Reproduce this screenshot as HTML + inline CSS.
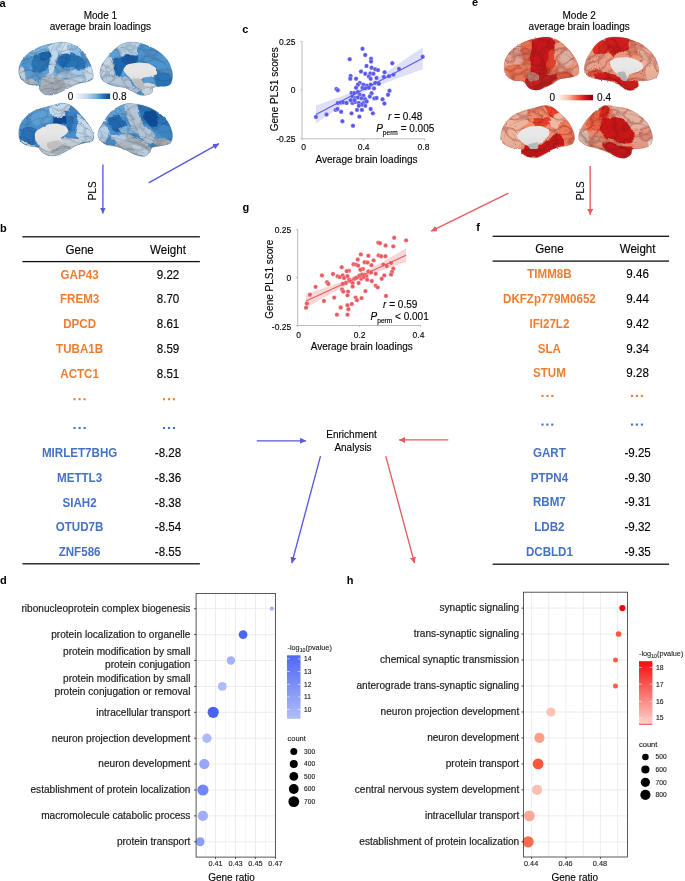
<!DOCTYPE html>
<html><head><meta charset="utf-8"><title>figure</title><style>
html,body{margin:0;padding:0;background:#fff;width:685px;height:881px;overflow:hidden;}
svg{display:block;will-change:transform;font-family:"Liberation Sans",sans-serif;}
</style></head><body>
<svg width="685" height="881" viewBox="0 0 685 881">
<defs><clipPath id="cp_a1"><path d="M19.34,75.22 C18.72,73.57 18.52,72.33 18.72,70.26 C18.93,68.19 19.34,65.30 20.58,62.81 C21.82,60.33 24.00,57.54 26.17,55.37 C28.34,53.20 30.72,51.44 33.61,49.79 C36.51,48.13 40.02,46.58 43.54,45.44 C47.05,44.31 51.19,43.48 54.70,42.96 C58.22,42.45 61.32,41.93 64.63,42.34 C67.94,42.76 71.66,44.10 74.55,45.44 C77.45,46.79 79.93,48.34 82.00,50.41 C84.07,52.47 85.41,55.16 86.96,57.85 C88.51,60.54 90.27,63.85 91.30,66.54 C92.34,69.22 92.96,71.91 93.16,73.98 C93.37,76.05 93.37,77.70 92.54,78.94 C91.72,80.18 89.96,80.80 88.20,81.42 C86.44,82.04 84.27,82.04 82.00,82.67 C79.72,83.29 77.03,84.11 74.55,85.15 C72.07,86.18 69.59,87.63 67.11,88.87 C64.63,90.11 62.15,91.56 59.67,92.59 C57.18,93.62 54.70,94.76 52.22,95.07 C49.74,95.38 46.84,95.28 44.78,94.45 C42.71,93.62 40.85,91.66 39.81,90.11 C38.78,88.56 39.61,85.97 38.57,85.15 C37.54,84.32 35.47,85.35 33.61,85.15 C31.75,84.94 29.27,84.73 27.41,83.91 C25.55,83.08 23.79,81.63 22.44,80.18 C21.10,78.74 19.96,76.88 19.34,75.22 Z"/></clipPath>
<clipPath id="cp_a2"><path d="M99.96,73.98 C99.76,71.71 100.38,68.81 101.20,66.54 C102.03,64.26 103.48,62.40 104.93,60.33 C106.37,58.26 108.03,56.20 109.89,54.13 C111.75,52.06 113.61,49.79 116.09,47.93 C118.57,46.06 121.47,43.89 124.78,42.96 C128.09,42.03 132.22,41.93 135.94,42.34 C139.67,42.76 143.59,44.10 147.11,45.44 C150.62,46.79 153.93,48.34 157.03,50.41 C160.14,52.47 163.44,55.16 165.72,57.85 C167.99,60.54 169.55,63.64 170.68,66.54 C171.82,69.43 172.54,72.33 172.54,75.22 C172.54,78.12 172.03,82.04 170.68,83.91 C169.34,85.77 166.34,85.97 164.48,86.39 C162.62,86.80 161.38,86.18 159.52,86.39 C157.66,86.59 154.55,86.59 153.31,87.63 C152.07,88.66 153.11,91.35 152.07,92.59 C151.04,93.83 149.18,94.66 147.11,95.07 C145.04,95.49 142.15,95.69 139.67,95.07 C137.18,94.45 134.70,92.59 132.22,91.35 C129.74,90.11 127.46,88.45 124.78,87.63 C122.09,86.80 118.78,87.01 116.09,86.39 C113.40,85.77 110.92,84.94 108.65,83.91 C106.37,82.87 103.89,81.84 102.44,80.18 C101.00,78.53 100.17,76.25 99.96,73.98 Z"/></clipPath>
<clipPath id="cp_a3"><path d="M18.72,133.98 C18.72,131.50 18.93,127.98 19.96,125.30 C21.00,122.61 22.86,120.13 24.93,117.85 C26.99,115.58 29.47,113.30 32.37,111.65 C35.26,109.99 38.99,108.96 42.30,107.93 C45.60,106.89 48.91,106.23 52.22,105.44 C55.53,104.66 59.25,103.31 62.15,103.21 C65.04,103.11 67.11,103.62 69.59,104.82 C72.07,106.02 74.55,108.03 77.03,110.41 C79.52,112.78 82.20,116.20 84.48,119.09 C86.75,121.99 89.13,124.88 90.68,127.78 C92.23,130.67 93.58,134.19 93.78,136.46 C93.99,138.74 93.27,140.39 91.92,141.42 C90.58,142.46 88.20,142.04 85.72,142.67 C83.24,143.29 79.93,143.91 77.03,145.15 C74.14,146.39 71.45,148.45 68.35,150.11 C65.25,151.76 61.73,154.14 58.42,155.07 C55.12,156.00 51.39,156.31 48.50,155.69 C45.60,155.07 42.71,152.69 41.05,151.35 C39.40,150.01 40.23,148.45 38.57,147.63 C36.92,146.80 33.61,147.01 31.13,146.39 C28.65,145.77 25.55,144.94 23.68,143.91 C21.82,142.87 20.79,141.84 19.96,140.18 C19.14,138.53 18.72,136.46 18.72,133.98 Z"/></clipPath>
<clipPath id="cp_a4"><path d="M98.10,136.46 C97.69,134.60 97.79,132.74 98.72,130.26 C99.65,127.78 101.82,124.47 103.68,121.57 C105.55,118.68 107.41,115.37 109.89,112.89 C112.37,110.41 115.68,108.24 118.57,106.68 C121.47,105.13 124.16,104.00 127.26,103.58 C130.36,103.17 133.88,103.69 137.18,104.20 C140.49,104.72 143.80,105.44 147.11,106.68 C150.42,107.93 153.93,109.58 157.03,111.65 C160.14,113.72 163.44,116.40 165.72,119.09 C167.99,121.78 169.55,125.09 170.68,127.78 C171.82,130.46 172.54,132.74 172.54,135.22 C172.54,137.70 172.03,141.01 170.68,142.67 C169.34,144.32 166.75,144.53 164.48,145.15 C162.20,145.77 159.10,145.97 157.03,146.39 C154.97,146.80 153.31,146.59 152.07,147.63 C150.83,148.66 150.83,151.14 149.59,152.59 C148.35,154.04 146.90,155.90 144.63,156.31 C142.35,156.73 139.04,156.11 135.94,155.07 C132.84,154.04 129.33,151.56 126.02,150.11 C122.71,148.66 119.19,147.21 116.09,146.39 C112.99,145.56 109.89,145.97 107.41,145.15 C104.93,144.32 102.75,142.87 101.20,141.42 C99.65,139.98 98.52,138.32 98.10,136.46 Z"/></clipPath>
<clipPath id="cp_e1"><path d="M504.34,67.98 C504.34,65.91 504.03,63.22 504.96,60.54 C505.89,57.85 507.86,54.33 509.93,51.85 C511.99,49.37 514.47,47.51 517.37,45.65 C520.26,43.79 523.99,41.97 527.30,40.68 C530.60,39.40 533.91,38.58 537.22,37.96 C540.53,37.33 544.25,36.82 547.15,36.96 C550.04,37.11 552.11,37.79 554.59,38.82 C557.07,39.86 559.55,41.20 562.03,43.17 C564.52,45.13 567.20,47.92 569.48,50.61 C571.75,53.30 574.13,56.40 575.68,59.30 C577.23,62.19 578.37,65.50 578.78,67.98 C579.20,70.46 579.09,72.74 578.16,74.18 C577.23,75.63 575.06,76.04 573.20,76.67 C571.34,77.29 569.27,77.49 567.00,77.91 C564.72,78.32 562.03,78.11 559.55,79.15 C557.07,80.18 554.59,82.66 552.11,84.11 C549.63,85.56 547.35,86.80 544.67,87.83 C541.98,88.87 538.67,90.31 535.98,90.31 C533.29,90.31 530.40,89.07 528.54,87.83 C526.67,86.59 526.05,84.01 524.81,82.87 C523.57,81.73 522.95,81.42 521.09,81.01 C519.23,80.59 515.92,81.11 513.65,80.39 C511.37,79.66 508.89,77.91 507.44,76.67 C506.00,75.42 505.48,74.39 504.96,72.94 C504.45,71.50 504.34,70.05 504.34,67.98 Z"/></clipPath>
<clipPath id="cp_e2"><path d="M584.34,70.46 C584.24,68.29 584.65,64.67 585.58,61.78 C586.51,58.88 588.17,55.99 589.93,53.09 C591.68,50.20 593.65,46.78 596.13,44.41 C598.61,42.03 601.92,40.06 604.81,38.82 C607.71,37.58 610.40,37.17 613.50,36.96 C616.60,36.76 620.12,36.96 623.42,37.58 C626.73,38.20 630.25,39.55 633.35,40.68 C636.45,41.82 639.14,42.55 642.03,44.41 C644.93,46.27 648.34,49.16 650.72,51.85 C653.10,54.54 654.96,57.64 656.30,60.54 C657.65,63.43 658.68,66.53 658.78,69.22 C658.89,71.91 658.27,74.91 656.92,76.67 C655.58,78.42 652.99,79.04 650.72,79.77 C648.44,80.49 645.34,80.70 643.28,81.01 C641.21,81.32 639.14,80.70 638.31,81.63 C637.49,82.56 639.35,85.14 638.31,86.59 C637.28,88.04 634.18,89.80 632.11,90.31 C630.04,90.83 627.97,90.52 625.91,89.69 C623.84,88.87 621.98,86.69 619.70,85.35 C617.43,84.01 615.15,82.56 612.26,81.63 C609.36,80.70 605.64,80.39 602.33,79.77 C599.02,79.15 595.10,78.73 592.41,77.91 C589.72,77.08 587.55,76.04 586.20,74.80 C584.86,73.56 584.45,72.63 584.34,70.46 Z"/></clipPath>
<clipPath id="cp_e3"><path d="M500.72,138.46 C500.72,136.39 500.93,132.67 501.96,129.78 C503.00,126.88 504.86,123.57 506.93,121.09 C508.99,118.61 511.47,116.65 514.37,114.89 C517.26,113.13 520.99,111.68 524.30,110.55 C527.60,109.41 530.91,108.89 534.22,108.06 C537.53,107.24 541.25,105.79 544.15,105.58 C547.04,105.38 548.90,105.48 551.59,106.82 C554.28,108.17 557.59,111.27 560.28,113.65 C562.96,116.03 565.65,118.40 567.72,121.09 C569.79,123.78 571.55,127.09 572.68,129.78 C573.82,132.46 574.54,134.95 574.54,137.22 C574.54,139.50 574.03,141.98 572.68,143.42 C571.34,144.87 568.75,145.29 566.48,145.91 C564.20,146.53 561.52,146.53 559.03,147.15 C556.55,147.77 554.07,148.39 551.59,149.63 C549.11,150.87 546.63,153.25 544.15,154.59 C541.67,155.93 539.39,157.28 536.70,157.69 C534.01,158.11 530.50,157.80 528.02,157.07 C525.54,156.35 523.05,154.59 521.81,153.35 C520.57,152.11 521.81,150.45 520.57,149.63 C519.33,148.80 516.64,149.01 514.37,148.39 C512.10,147.77 508.99,146.94 506.93,145.91 C504.86,144.87 503.00,143.42 501.96,142.18 C500.93,140.94 500.72,140.53 500.72,138.46 Z"/></clipPath>
<clipPath id="cp_e4"><path d="M578.72,138.46 C578.52,136.60 578.93,133.71 579.96,131.02 C581.00,128.33 582.86,125.23 584.93,122.33 C586.99,119.44 589.89,116.03 592.37,113.65 C594.85,111.27 597.54,109.47 599.81,108.06 C602.09,106.66 603.33,105.42 606.02,105.21 C608.71,105.00 612.43,106.24 615.94,106.82 C619.46,107.40 623.59,107.55 627.11,108.68 C630.62,109.82 633.93,111.58 637.03,113.65 C640.14,115.72 643.44,118.40 645.72,121.09 C647.99,123.78 649.55,127.09 650.68,129.78 C651.82,132.46 652.54,134.74 652.54,137.22 C652.54,139.70 652.03,142.91 650.68,144.67 C649.34,146.42 646.75,147.04 644.48,147.77 C642.20,148.49 639.10,148.70 637.03,149.01 C634.97,149.32 633.11,148.70 632.07,149.63 C631.04,150.56 632.07,153.14 630.83,154.59 C629.59,156.04 626.90,157.90 624.63,158.31 C622.35,158.73 620.08,158.11 617.18,157.07 C614.29,156.04 610.57,153.56 607.26,152.11 C603.95,150.66 600.64,149.42 597.33,148.39 C594.02,147.35 590.10,146.94 587.41,145.91 C584.72,144.87 582.65,143.42 581.20,142.18 C579.76,140.94 578.93,140.32 578.72,138.46 Z"/></clipPath>
<filter id="wig" x="-10%" y="-10%" width="120%" height="120%"><feTurbulence type="fractalNoise" baseFrequency="0.13" numOctaves="1" seed="3" result="t"/><feDisplacementMap in="SourceGraphic" in2="t" scale="6" xChannelSelector="R" yChannelSelector="G"/></filter>
<filter id="sul" x="0" y="0" width="100%" height="100%" color-interpolation-filters="sRGB"><feTurbulence type="turbulence" baseFrequency="0.07 0.1" numOctaves="1" seed="11"/><feColorMatrix type="matrix" values="0 0 0 0 0.22  0 0 0 0 0.24  0 0 0 0 0.28  -1.4 0 0 0 0.2"/><feGaussianBlur stdDeviation="0.6"/></filter>
<filter id="sulr" x="0" y="0" width="100%" height="100%" color-interpolation-filters="sRGB"><feTurbulence type="turbulence" baseFrequency="0.07 0.1" numOctaves="1" seed="11"/><feColorMatrix type="matrix" values="0 0 0 0 0.45  0 0 0 0 0.06  0 0 0 0 0.06  -2.0 0 0 0 0.3"/><feGaussianBlur stdDeviation="0.6"/></filter>
<filter id="wig2" x="-5%" y="-5%" width="110%" height="110%"><feTurbulence type="fractalNoise" baseFrequency="0.25" numOctaves="1" seed="5" result="t"/><feDisplacementMap in="SourceGraphic" in2="t" scale="2.2" xChannelSelector="R" yChannelSelector="G"/></filter>
<linearGradient id="shade" x1="0" x2="0" y1="0" y2="1"><stop offset="0.55" stop-color="#000" stop-opacity="0"/><stop offset="1" stop-color="#000" stop-opacity="0.09"/></linearGradient>
<linearGradient id="gblue" x1="0" x2="1" y1="0" y2="0"><stop offset="0" stop-color="#eef4fa"/><stop offset="0.3" stop-color="#c6dbef"/><stop offset="0.6" stop-color="#6baed6"/><stop offset="0.82" stop-color="#2171b5"/><stop offset="1" stop-color="#08468f"/></linearGradient>
<linearGradient id="gred" x1="0" x2="1" y1="0" y2="0"><stop offset="0" stop-color="#fff2ec"/><stop offset="0.3" stop-color="#fbb59a"/><stop offset="0.55" stop-color="#f4553c"/><stop offset="0.78" stop-color="#cc1518"/><stop offset="1" stop-color="#780010"/></linearGradient>
<linearGradient id="gdleg" x1="0" x2="0" y1="0" y2="1"><stop offset="0" stop-color="#4f68f4"/><stop offset="1" stop-color="#b0bdf9"/></linearGradient>
<linearGradient id="ghleg" x1="0" x2="0" y1="0" y2="1"><stop offset="0" stop-color="#f50d0d"/><stop offset="1" stop-color="#fdd5cc"/></linearGradient>
<marker id="mb" viewBox="0 0 10 10" refX="10" refY="5" markerWidth="6" markerHeight="6" markerUnits="userSpaceOnUse" orient="auto"><path d="M0,0 L10,5 L0,10 z" fill="#5658e0"/></marker>
<marker id="mr" viewBox="0 0 10 10" refX="10" refY="5" markerWidth="6" markerHeight="6" markerUnits="userSpaceOnUse" orient="auto"><path d="M0,0 L10,5 L0,10 z" fill="#e85a5c"/></marker></defs>
<g filter="url(#wig2)"><g clip-path="url(#cp_a1)"><rect x="15.7" y="39.3" width="80.4" height="58.7" fill="#5d9fd4"/><g filter="url(#wig)"><path d="M26.17,55.37 C26.27,54.80 32.16,50.61 33.61,49.79 C35.06,48.96 42.19,45.86 43.54,45.44 C44.88,45.03 49.33,44.31 49.74,44.82 C50.15,45.34 49.33,50.98 48.50,51.65 C47.67,52.32 41.16,52.47 39.81,52.89 C38.47,53.30 33.51,56.40 32.37,56.61 C31.23,56.82 26.06,55.94 26.17,55.37 Z" fill="#7db5df"/><path d="M20.58,62.81 C21.05,61.78 25.18,55.89 26.17,55.37 C27.15,54.85 31.96,55.68 32.37,56.61 C32.78,57.54 31.65,65.40 31.13,66.54 C30.61,67.67 27.05,70.15 26.17,70.26 C25.29,70.36 21.05,68.40 20.58,67.78 C20.12,67.16 20.12,63.85 20.58,62.81 Z" fill="#4f93cd"/><path d="M33.61,56.61 C34.33,55.47 38.57,53.30 39.81,52.89 C41.05,52.47 47.62,51.44 48.50,51.65 C49.38,51.85 50.41,54.44 50.36,55.37 C50.31,56.30 48.24,61.57 47.88,62.81 C47.52,64.05 46.69,69.43 46.02,70.26 C45.35,71.09 40.74,72.64 39.81,72.74 C38.88,72.84 35.57,72.02 34.85,71.50 C34.13,70.98 31.23,67.78 31.13,66.54 C31.03,65.30 32.89,57.75 33.61,56.61 Z" fill="#2a74b8"/><path d="M39.81,52.89 C40.43,52.27 47.67,51.34 48.50,51.65 C49.33,51.96 49.95,55.89 49.74,56.61 C49.53,57.33 46.74,60.13 46.02,60.33 C45.29,60.54 41.57,59.71 41.05,59.09 C40.54,58.47 39.19,53.51 39.81,52.89 Z" fill="#1a62aa"/><path d="M49.74,44.82 C50.31,44.20 54.91,42.91 55.94,42.96 C56.98,43.01 61.94,44.62 62.15,45.44 C62.35,46.27 58.94,51.44 58.42,52.89 C57.91,54.34 56.36,61.16 55.94,62.81 C55.53,64.47 54.08,71.81 53.46,72.74 C52.84,73.67 48.96,74.60 48.50,73.98 C48.03,73.36 47.67,66.74 47.88,65.30 C48.09,63.85 50.88,57.85 50.98,56.61 C51.08,55.37 49.22,51.39 49.12,50.41 C49.02,49.42 49.17,45.44 49.74,44.82 Z" fill="#c0d8ec"/><path d="M55.94,42.96 C56.36,42.70 65.56,42.14 67.11,42.34 C68.66,42.55 74.04,44.67 74.55,45.44 C75.07,46.22 74.14,50.92 73.31,51.65 C72.49,52.37 65.87,54.03 64.63,54.13 C63.39,54.23 58.63,53.61 58.42,52.89 C58.22,52.16 62.35,46.27 62.15,45.44 C61.94,44.62 55.53,43.22 55.94,42.96 Z" fill="#c8ddef"/><path d="M67.11,45.44 C67.42,44.82 73.31,45.03 74.55,45.44 C75.79,45.86 81.17,49.48 82.00,50.41 C82.82,51.34 84.89,56.20 84.48,56.61 C84.07,57.02 78.17,55.68 77.03,55.37 C75.90,55.06 71.66,53.72 70.83,52.89 C70.00,52.06 66.80,46.06 67.11,45.44 Z" fill="#8fc0e3"/><path d="M58.42,56.61 C58.99,55.73 63.49,53.72 64.63,53.51 C65.77,53.30 70.83,53.87 72.07,54.13 C73.31,54.39 78.48,56.09 79.52,56.61 C80.55,57.13 83.96,59.40 84.48,60.33 C85.00,61.26 86.34,67.05 85.72,67.78 C85.10,68.50 78.38,69.02 77.03,69.02 C75.69,69.02 70.83,67.83 69.59,67.78 C68.35,67.72 63.13,68.71 62.15,68.40 C61.16,68.09 58.11,65.04 57.80,64.05 C57.49,63.07 57.86,57.49 58.42,56.61 Z" fill="#2775ba"/><path d="M60.91,55.37 C61.63,54.65 67.52,53.72 68.35,54.13 C69.18,54.54 70.93,59.20 70.83,60.33 C70.73,61.47 67.83,67.16 67.11,67.78 C66.39,68.40 62.77,68.19 62.15,67.78 C61.53,67.36 59.77,63.85 59.67,62.81 C59.56,61.78 60.18,56.09 60.91,55.37 Z" fill="#1b67b0"/><path d="M82.00,50.41 C82.51,50.61 86.18,56.51 86.96,57.85 C87.74,59.20 91.41,65.71 91.30,66.54 C91.20,67.36 86.29,68.29 85.72,67.78 C85.15,67.26 84.89,61.37 84.48,60.33 C84.07,59.30 80.96,56.20 80.76,55.37 C80.55,54.54 81.48,50.20 82.00,50.41 Z" fill="#5597d0"/><path d="M85.72,67.78 C86.55,67.26 91.28,67.26 91.92,67.78 C92.56,68.29 93.36,73.00 93.41,73.98 C93.46,74.96 92.98,78.94 92.54,79.56 C92.11,80.18 88.98,81.37 88.20,81.42 C87.43,81.48 83.76,80.80 83.24,80.18 C82.72,79.56 81.79,75.01 82.00,73.98 C82.20,72.95 84.89,68.29 85.72,67.78 Z" fill="#cadcec"/><path d="M47.26,73.98 C48.09,73.57 54.29,73.05 55.94,72.74 C57.60,72.43 65.35,70.52 67.11,70.26 C68.87,70.00 75.59,69.53 77.03,69.64 C78.48,69.74 83.86,70.72 84.48,71.50 C85.10,72.27 85.41,78.32 84.48,78.94 C83.55,79.56 75.17,79.05 73.31,78.94 C71.45,78.84 63.90,77.70 62.15,77.70 C60.39,77.70 53.56,78.94 52.22,78.94 C50.88,78.94 46.43,78.12 46.02,77.70 C45.60,77.29 46.43,74.39 47.26,73.98 Z" fill="#a8c8e4"/><path d="M39.81,78.94 C40.43,77.81 45.81,76.56 47.26,76.46 C48.71,76.36 55.53,77.50 57.18,77.70 C58.84,77.91 65.77,78.74 67.11,78.94 C68.45,79.15 73.21,79.46 73.31,80.18 C73.42,80.91 69.49,86.59 68.35,87.63 C67.21,88.66 61.01,91.97 59.67,92.59 C58.32,93.21 53.46,94.92 52.22,95.07 C50.98,95.23 45.81,94.87 44.78,94.45 C43.74,94.04 40.23,91.40 39.81,90.11 C39.40,88.82 39.19,80.08 39.81,78.94 Z" fill="#b0b8c0"/><path d="M67.11,78.94 C68.66,78.53 81.48,78.74 83.24,78.94 C85.00,79.15 88.30,81.11 88.20,81.42 C88.10,81.73 83.13,82.35 82.00,82.67 C80.86,82.98 75.79,84.73 74.55,85.15 C73.31,85.56 67.94,87.73 67.11,87.63 C66.28,87.52 64.63,84.63 64.63,83.91 C64.63,83.18 65.56,79.36 67.11,78.94 Z" fill="#c4d3e2"/><path d="M19.34,75.22 C19.14,74.50 18.62,70.98 18.72,70.26 C18.83,69.53 20.07,66.64 20.58,66.54 C21.10,66.43 24.46,68.29 24.93,69.02 C25.39,69.74 26.27,74.29 26.17,75.22 C26.06,76.15 24.10,79.87 23.68,80.18 C23.27,80.49 21.57,79.36 21.20,78.94 C20.84,78.53 19.55,75.94 19.34,75.22 Z" fill="#c5ccd4"/><path d="M22.44,80.18 C22.44,79.77 26.48,78.94 27.41,78.94 C28.34,78.94 32.68,79.77 33.61,80.18 C34.54,80.60 38.57,83.49 38.57,83.91 C38.57,84.32 34.54,85.15 33.61,85.15 C32.68,85.15 28.34,84.32 27.41,83.91 C26.48,83.49 22.44,80.60 22.44,80.18 Z" fill="#b5bcc4"/></g><path d="M38.57,78.94 C40.43,78.32 45.81,76.05 49.74,75.22 C53.67,74.39 58.42,74.81 62.15,73.98 C65.87,73.15 69.59,71.60 72.07,70.26 C74.55,68.91 76.21,66.64 77.03,65.92  M43.54,87.01 C45.60,86.12 51.81,83.02 55.94,81.67 C60.08,80.33 64.21,80.02 68.35,78.94 C72.49,77.87 77.55,76.63 80.76,75.22 C83.96,73.81 86.44,71.29 87.58,70.51  M64.63,43.58 C64.05,44.93 62.19,49.02 61.15,51.65 C60.12,54.27 59.46,56.65 58.42,59.34 C57.39,62.03 55.98,65.44 54.95,67.78 C53.92,70.11 52.68,72.43 52.22,73.36  M54.45,43.96 C53.88,45.24 51.93,48.92 50.98,51.65 C50.03,54.38 49.53,57.44 48.75,60.33 C47.96,63.23 46.68,67.57 46.27,69.02  M72.32,46.93 C71.56,48.17 68.97,51.73 67.73,54.38 C66.49,57.02 65.70,60.21 64.88,62.81 C64.05,65.42 63.12,68.81 62.77,70.01  M28.65,55.37 C30.10,54.79 34.40,52.76 37.33,51.90 C40.27,51.03 44.78,50.45 46.27,50.16  M21.82,64.05 C23.37,63.56 28.13,61.86 31.13,61.08 C34.13,60.29 37.37,59.55 39.81,59.34 C42.25,59.13 44.78,59.75 45.77,59.84  M68.60,55.62 C70.00,55.99 74.39,56.69 77.03,57.85 C79.68,59.01 82.31,61.08 84.48,62.57 C86.65,64.05 89.13,66.08 90.06,66.78  M47.51,91.60 C49.33,91.14 54.54,89.90 58.42,88.87 C62.31,87.83 67.01,86.59 70.83,85.39 C74.66,84.20 79.62,82.29 81.38,81.67  M22.44,71.50 C23.68,71.33 27.61,70.30 29.89,70.51 C32.16,70.71 35.06,72.37 36.09,72.74  M82.00,51.65 C82.41,52.47 83.76,54.96 84.48,56.61 C85.20,58.26 86.03,60.75 86.34,61.57  M33.61,66.54 C34.44,66.95 37.23,67.57 38.57,69.02 C39.92,70.46 41.16,74.19 41.67,75.22  " fill="none" stroke="#2f3540" stroke-opacity="0.22" stroke-width="0.7" stroke-linecap="round" stroke-linejoin="round"/><rect x="15.7" y="39.3" width="80.4" height="58.7" filter="url(#sul)"/><path d="M19.34,75.22 C18.72,73.57 18.52,72.33 18.72,70.26 C18.93,68.19 19.34,65.30 20.58,62.81 C21.82,60.33 24.00,57.54 26.17,55.37 C28.34,53.20 30.72,51.44 33.61,49.79 C36.51,48.13 40.02,46.58 43.54,45.44 C47.05,44.31 51.19,43.48 54.70,42.96 C58.22,42.45 61.32,41.93 64.63,42.34 C67.94,42.76 71.66,44.10 74.55,45.44 C77.45,46.79 79.93,48.34 82.00,50.41 C84.07,52.47 85.41,55.16 86.96,57.85 C88.51,60.54 90.27,63.85 91.30,66.54 C92.34,69.22 92.96,71.91 93.16,73.98 C93.37,76.05 93.37,77.70 92.54,78.94 C91.72,80.18 89.96,80.80 88.20,81.42 C86.44,82.04 84.27,82.04 82.00,82.67 C79.72,83.29 77.03,84.11 74.55,85.15 C72.07,86.18 69.59,87.63 67.11,88.87 C64.63,90.11 62.15,91.56 59.67,92.59 C57.18,93.62 54.70,94.76 52.22,95.07 C49.74,95.38 46.84,95.28 44.78,94.45 C42.71,93.62 40.85,91.66 39.81,90.11 C38.78,88.56 39.61,85.97 38.57,85.15 C37.54,84.32 35.47,85.35 33.61,85.15 C31.75,84.94 29.27,84.73 27.41,83.91 C25.55,83.08 23.79,81.63 22.44,80.18 C21.10,78.74 19.96,76.88 19.34,75.22 Z" fill="url(#shade)"/></g><path d="M19.34,75.22 C18.72,73.57 18.52,72.33 18.72,70.26 C18.93,68.19 19.34,65.30 20.58,62.81 C21.82,60.33 24.00,57.54 26.17,55.37 C28.34,53.20 30.72,51.44 33.61,49.79 C36.51,48.13 40.02,46.58 43.54,45.44 C47.05,44.31 51.19,43.48 54.70,42.96 C58.22,42.45 61.32,41.93 64.63,42.34 C67.94,42.76 71.66,44.10 74.55,45.44 C77.45,46.79 79.93,48.34 82.00,50.41 C84.07,52.47 85.41,55.16 86.96,57.85 C88.51,60.54 90.27,63.85 91.30,66.54 C92.34,69.22 92.96,71.91 93.16,73.98 C93.37,76.05 93.37,77.70 92.54,78.94 C91.72,80.18 89.96,80.80 88.20,81.42 C86.44,82.04 84.27,82.04 82.00,82.67 C79.72,83.29 77.03,84.11 74.55,85.15 C72.07,86.18 69.59,87.63 67.11,88.87 C64.63,90.11 62.15,91.56 59.67,92.59 C57.18,93.62 54.70,94.76 52.22,95.07 C49.74,95.38 46.84,95.28 44.78,94.45 C42.71,93.62 40.85,91.66 39.81,90.11 C38.78,88.56 39.61,85.97 38.57,85.15 C37.54,84.32 35.47,85.35 33.61,85.15 C31.75,84.94 29.27,84.73 27.41,83.91 C25.55,83.08 23.79,81.63 22.44,80.18 C21.10,78.74 19.96,76.88 19.34,75.22 Z" fill="none" stroke="#6a6f75" stroke-opacity="0.35" stroke-width="0.7"/></g>
<g filter="url(#wig2)"><g clip-path="url(#cp_a2)"><rect x="97.0" y="39.3" width="78.6" height="58.7" fill="#5a9ed4"/><g filter="url(#wig)"><path d="M118.57,46.68 C118.99,45.65 123.64,43.35 124.78,42.96 C125.91,42.58 130.98,42.04 132.22,42.09 C133.46,42.15 139.15,42.58 139.67,43.58 C140.18,44.59 139.04,53.20 138.42,54.13 C137.80,55.06 133.36,54.65 132.22,54.75 C131.08,54.85 125.81,55.32 124.78,55.37 C123.74,55.42 120.33,56.09 119.81,55.37 C119.30,54.65 118.16,47.72 118.57,46.68 Z" fill="#b5cfe6"/><path d="M99.96,72.74 C99.91,71.60 100.79,66.43 101.20,65.30 C101.62,64.16 104.20,59.82 104.93,59.09 C105.65,58.37 109.16,56.51 109.89,56.61 C110.61,56.71 113.20,59.30 113.61,60.33 C114.02,61.37 114.85,67.67 114.85,69.02 C114.85,70.36 114.23,75.53 113.61,76.46 C112.99,77.39 108.39,79.98 107.41,80.18 C106.42,80.39 102.44,79.56 101.82,78.94 C101.20,78.32 100.01,73.88 99.96,72.74 Z" fill="#c3d5e5"/><path d="M139.67,43.58 C140.54,42.96 146.90,44.93 148.35,45.44 C149.80,45.96 155.48,48.75 157.03,49.79 C158.59,50.82 165.72,56.25 166.96,57.85 C168.20,59.45 171.49,67.26 171.92,69.02 C172.36,70.78 172.79,78.43 172.17,78.94 C171.55,79.46 165.74,76.05 164.48,75.22 C163.22,74.39 158.38,69.95 157.03,69.02 C155.69,68.09 149.80,64.78 148.35,64.05 C146.90,63.33 140.54,61.26 139.67,60.33 C138.79,59.40 137.80,54.28 137.80,52.89 C137.80,51.49 138.79,44.20 139.67,43.58 Z" fill="#4b94cf"/><path d="M113.61,59.09 C114.13,58.11 118.47,56.30 119.81,55.99 C121.16,55.68 128.24,55.32 129.74,55.37 C131.24,55.42 137.08,56.09 137.80,56.61 C138.53,57.13 138.89,61.06 138.42,61.57 C137.96,62.09 133.25,62.50 132.22,62.81 C131.19,63.12 126.74,64.67 126.02,65.30 C125.29,65.92 123.95,69.43 123.54,70.26 C123.12,71.09 121.67,74.91 121.05,75.22 C120.43,75.53 116.71,74.60 116.09,73.98 C115.47,73.36 113.82,69.02 113.61,67.78 C113.40,66.54 113.09,60.07 113.61,59.09 Z" fill="#1e66ae"/><path d="M121.05,56.61 C121.78,56.04 129.64,55.89 130.98,55.99 C132.32,56.09 136.77,57.39 137.18,57.85 C137.60,58.32 136.67,61.16 135.94,61.57 C135.22,61.99 129.64,62.71 128.50,62.81 C127.36,62.92 122.92,63.33 122.30,62.81 C121.67,62.30 120.33,57.18 121.05,56.61 Z" fill="#1259a3"/><path d="M137.80,60.33 C138.42,60.23 145.71,62.40 147.11,62.81 C148.50,63.23 153.52,64.67 154.55,65.30 C155.59,65.92 159.21,69.43 159.52,70.26 C159.83,71.09 158.79,75.01 158.28,75.22 C157.76,75.43 154.14,73.46 153.31,72.74 C152.49,72.02 149.49,67.26 148.35,66.54 C147.21,65.81 140.54,64.57 139.67,64.05 C138.79,63.54 137.18,60.44 137.80,60.33 Z" fill="#3a85c5"/><path d="M155.79,72.74 C156.62,72.12 163.13,71.09 164.48,71.50 C165.82,71.91 171.41,76.62 171.92,77.70 C172.44,78.79 171.30,83.80 170.68,84.53 C170.06,85.25 165.62,86.34 164.48,86.39 C163.34,86.44 157.86,85.77 157.03,85.15 C156.21,84.53 154.66,79.98 154.55,78.94 C154.45,77.91 154.97,73.36 155.79,72.74 Z" fill="#2c78bc"/><path d="M102.44,78.94 C102.86,78.37 108.44,75.43 109.89,75.22 C111.34,75.01 118.37,76.15 119.81,76.46 C121.26,76.77 126.12,78.22 127.26,78.94 C128.40,79.67 132.43,84.22 133.46,85.15 C134.50,86.08 139.46,89.49 139.67,90.11 C139.87,90.73 136.87,92.59 135.94,92.59 C135.01,92.59 129.84,90.63 128.50,90.11 C127.15,89.59 121.26,86.85 119.81,86.39 C118.37,85.92 112.37,84.89 111.13,84.53 C109.89,84.16 105.65,82.51 104.93,82.04 C104.20,81.58 102.03,79.51 102.44,78.94 Z" fill="#b9cde0"/><path d="M142.15,83.91 C142.97,83.29 148.35,82.51 149.59,82.67 C150.83,82.82 156.72,85.15 157.03,85.77 C157.34,86.39 153.93,89.33 153.31,90.11 C152.69,90.88 150.42,94.71 149.59,95.07 C148.76,95.43 144.21,94.87 143.39,94.45 C142.56,94.04 139.77,90.99 139.67,90.11 C139.56,89.23 141.32,84.53 142.15,83.91 Z" fill="#d6e2ec"/></g><path d="M168.94,74.50 C168.50,73.09 168.10,68.52 166.31,66.03 C164.51,63.53 161.71,61.21 158.15,59.54 C154.59,57.88 149.55,56.68 144.95,56.05 C140.35,55.43 133.95,56.64 130.55,55.81 C127.16,54.97 126.00,52.94 124.56,51.07 C123.12,49.20 122.36,45.67 121.92,44.59  M118.56,73.51 C117.76,72.05 115.40,67.52 113.76,64.78 C112.12,62.04 109.56,58.34 108.72,57.05  M125.76,78.49 C124.16,78.24 119.60,77.50 116.16,77.00 C112.72,76.50 106.96,75.75 105.12,75.50  M140.15,89.46 C137.75,89.05 130.35,87.97 125.76,86.97 C121.16,85.97 114.76,84.06 112.56,83.48  M164.15,55.81 C162.95,55.14 159.35,52.86 156.95,51.82 C154.55,50.78 150.95,49.95 149.75,49.57  M140.15,48.33 C139.55,49.16 138.15,52.69 136.55,53.31 C134.95,53.94 131.55,52.27 130.55,52.07  M108.96,67.02 C108.16,67.44 105.46,68.27 104.16,69.52 C102.86,70.76 101.66,73.67 101.16,74.50  M161.75,69.52 C161.15,70.35 158.55,72.63 158.15,74.50 C157.75,76.37 159.15,79.70 159.35,80.74  " fill="none" stroke="#2f3540" stroke-opacity="0.22" stroke-width="0.7" stroke-linecap="round" stroke-linejoin="round"/><rect x="97.0" y="39.3" width="78.6" height="58.7" filter="url(#sul)"/><path d="M123.54,69.02 C123.79,68.45 126.12,65.19 127.26,64.67 C128.40,64.16 135.43,62.92 137.18,62.81 C138.94,62.71 146.80,63.02 148.35,63.43 C149.90,63.85 155.07,66.90 155.79,67.78 C156.52,68.66 157.45,73.26 157.03,73.98 C156.62,74.70 151.97,76.15 150.83,76.46 C149.69,76.77 144.21,77.39 143.39,77.70 C142.56,78.01 140.80,79.46 140.91,80.18 C141.01,80.91 144.63,85.66 144.63,86.39 C144.63,87.11 141.63,88.87 140.91,88.87 C140.18,88.87 136.67,87.11 135.94,86.39 C135.22,85.66 132.94,81.11 132.22,80.18 C131.50,79.25 127.93,75.94 127.26,75.22 C126.59,74.50 124.47,72.02 124.16,71.50 C123.85,70.98 123.28,69.59 123.54,69.02 Z" fill="#e6e6e6"/><path d="M132.22,78.94 C132.63,78.32 139.87,78.32 140.91,78.94 C141.94,79.56 144.63,85.56 144.63,86.39 C144.63,87.21 141.63,88.87 140.91,88.87 C140.18,88.87 136.67,87.21 135.94,86.39 C135.22,85.56 131.81,79.56 132.22,78.94 Z" fill="#c4c4c4"/><path d="M99.96,73.98 C99.76,71.71 100.38,68.81 101.20,66.54 C102.03,64.26 103.48,62.40 104.93,60.33 C106.37,58.26 108.03,56.20 109.89,54.13 C111.75,52.06 113.61,49.79 116.09,47.93 C118.57,46.06 121.47,43.89 124.78,42.96 C128.09,42.03 132.22,41.93 135.94,42.34 C139.67,42.76 143.59,44.10 147.11,45.44 C150.62,46.79 153.93,48.34 157.03,50.41 C160.14,52.47 163.44,55.16 165.72,57.85 C167.99,60.54 169.55,63.64 170.68,66.54 C171.82,69.43 172.54,72.33 172.54,75.22 C172.54,78.12 172.03,82.04 170.68,83.91 C169.34,85.77 166.34,85.97 164.48,86.39 C162.62,86.80 161.38,86.18 159.52,86.39 C157.66,86.59 154.55,86.59 153.31,87.63 C152.07,88.66 153.11,91.35 152.07,92.59 C151.04,93.83 149.18,94.66 147.11,95.07 C145.04,95.49 142.15,95.69 139.67,95.07 C137.18,94.45 134.70,92.59 132.22,91.35 C129.74,90.11 127.46,88.45 124.78,87.63 C122.09,86.80 118.78,87.01 116.09,86.39 C113.40,85.77 110.92,84.94 108.65,83.91 C106.37,82.87 103.89,81.84 102.44,80.18 C101.00,78.53 100.17,76.25 99.96,73.98 Z" fill="url(#shade)"/></g><path d="M99.96,73.98 C99.76,71.71 100.38,68.81 101.20,66.54 C102.03,64.26 103.48,62.40 104.93,60.33 C106.37,58.26 108.03,56.20 109.89,54.13 C111.75,52.06 113.61,49.79 116.09,47.93 C118.57,46.06 121.47,43.89 124.78,42.96 C128.09,42.03 132.22,41.93 135.94,42.34 C139.67,42.76 143.59,44.10 147.11,45.44 C150.62,46.79 153.93,48.34 157.03,50.41 C160.14,52.47 163.44,55.16 165.72,57.85 C167.99,60.54 169.55,63.64 170.68,66.54 C171.82,69.43 172.54,72.33 172.54,75.22 C172.54,78.12 172.03,82.04 170.68,83.91 C169.34,85.77 166.34,85.97 164.48,86.39 C162.62,86.80 161.38,86.18 159.52,86.39 C157.66,86.59 154.55,86.59 153.31,87.63 C152.07,88.66 153.11,91.35 152.07,92.59 C151.04,93.83 149.18,94.66 147.11,95.07 C145.04,95.49 142.15,95.69 139.67,95.07 C137.18,94.45 134.70,92.59 132.22,91.35 C129.74,90.11 127.46,88.45 124.78,87.63 C122.09,86.80 118.78,87.01 116.09,86.39 C113.40,85.77 110.92,84.94 108.65,83.91 C106.37,82.87 103.89,81.84 102.44,80.18 C101.00,78.53 100.17,76.25 99.96,73.98 Z" fill="none" stroke="#6a6f75" stroke-opacity="0.35" stroke-width="0.7"/></g>
<g filter="url(#wig2)"><g clip-path="url(#cp_a3)"><rect x="15.7" y="100.2" width="81.1" height="58.5" fill="#4a8fcc"/><g filter="url(#wig)"><path d="M33.61,110.41 C34.54,109.37 40.74,108.32 42.30,107.93 C43.85,107.53 51.39,104.97 52.22,105.69 C53.05,106.42 52.74,115.18 52.22,116.61 C51.70,118.04 47.36,122.09 46.02,122.81 C44.67,123.54 37.33,125.50 36.09,125.30 C34.85,125.09 31.34,121.57 31.13,120.33 C30.92,119.09 32.68,111.44 33.61,110.41 Z" fill="#5b9fd5"/><path d="M19.96,129.02 C20.69,127.98 27.30,126.54 28.65,126.54 C29.99,126.54 35.16,127.98 36.09,129.02 C37.02,130.05 39.92,137.70 39.81,138.94 C39.71,140.18 36.09,143.54 34.85,143.91 C33.61,144.27 26.17,143.70 24.93,143.29 C23.68,142.87 20.38,140.13 19.96,138.94 C19.55,137.75 19.24,130.05 19.96,129.02 Z" fill="#2a70b6"/><path d="M50.98,105.69 C51.96,104.99 60.60,103.28 62.15,103.21 C63.70,103.14 68.97,103.71 69.59,104.82 C70.21,105.94 70.21,115.58 69.59,116.61 C68.97,117.64 63.49,117.23 62.15,117.23 C60.80,117.23 54.44,117.08 53.46,116.61 C52.48,116.15 50.57,112.56 50.36,111.65 C50.15,110.74 50.00,106.40 50.98,105.69 Z" fill="#c2d8ec"/><path d="M64.63,111.65 C65.66,110.61 75.79,109.68 77.03,110.41 C78.28,111.13 79.52,118.89 79.52,120.33 C79.52,121.78 77.76,126.64 77.03,127.78 C76.31,128.91 71.66,133.98 70.83,133.98 C70.00,133.98 67.63,128.71 67.11,127.78 C66.59,126.85 64.83,124.16 64.63,122.81 C64.42,121.47 63.59,112.68 64.63,111.65 Z" fill="#3a80c2"/><path d="M64.63,116.61 C65.20,115.78 72.49,115.89 73.31,116.61 C74.14,117.33 74.86,123.95 74.55,125.30 C74.24,126.64 70.26,132.64 69.59,132.74 C68.92,132.84 66.90,127.88 66.49,126.54 C66.08,125.19 64.06,117.44 64.63,116.61 Z" fill="#2a6fb4"/><path d="M52.84,117.85 C53.82,117.39 63.59,116.71 64.63,117.23 C65.66,117.75 65.97,123.43 65.25,124.05 C64.52,124.67 56.98,124.78 55.94,124.67 C54.91,124.57 53.10,123.38 52.84,122.81 C52.58,122.25 51.86,118.32 52.84,117.85 Z" fill="#0d4a95"/><path d="M77.03,114.13 C77.55,113.61 83.34,117.95 84.48,119.09 C85.62,120.23 89.91,126.33 90.68,127.78 C91.46,129.22 93.68,135.32 93.78,136.46 C93.89,137.60 92.70,140.91 91.92,141.42 C91.15,141.94 85.82,143.18 84.48,142.67 C83.13,142.15 76.31,136.67 75.79,135.22 C75.28,133.77 78.17,127.05 78.28,125.30 C78.38,123.54 76.52,114.65 77.03,114.13 Z" fill="#c5d9ec"/><path d="M39.81,143.91 C40.74,142.98 49.95,140.70 52.22,140.18 C54.50,139.67 65.04,137.81 67.11,137.70 C69.18,137.60 75.48,138.58 77.03,138.94 C78.59,139.30 85.72,141.53 85.72,142.04 C85.72,142.56 78.48,144.47 77.03,145.15 C75.59,145.82 69.90,149.28 68.35,150.11 C66.80,150.94 60.08,154.61 58.42,155.07 C56.77,155.54 49.95,156.00 48.50,155.69 C47.05,155.38 41.78,152.33 41.05,151.35 C40.33,150.37 38.88,144.84 39.81,143.91 Z" fill="#cbd4dd"/><path d="M52.22,147.63 C53.15,147.01 60.60,145.25 62.15,145.15 C63.70,145.04 70.62,145.87 70.83,146.39 C71.04,146.90 65.77,150.68 64.63,151.35 C63.49,152.02 58.32,154.35 57.18,154.45 C56.05,154.56 51.39,153.16 50.98,152.59 C50.57,152.02 51.29,148.25 52.22,147.63 Z" fill="#b0b9c2"/><path d="M19.96,140.18 C20.38,140.10 28.34,143.29 29.89,143.91 C31.44,144.53 38.26,147.40 38.57,147.63 C38.88,147.86 34.75,146.86 33.61,146.64 C32.47,146.41 26.06,145.44 24.93,144.90 C23.79,144.36 19.55,140.27 19.96,140.18 Z" fill="#d8e0e8"/></g><path d="M22.44,135.22 C22.90,133.81 23.31,129.27 25.17,126.78 C27.03,124.30 29.93,121.99 33.61,120.33 C37.29,118.68 42.50,117.48 47.26,116.86 C52.01,116.24 58.63,117.44 62.15,116.61 C65.66,115.78 66.86,113.76 68.35,111.90 C69.84,110.03 70.62,106.52 71.08,105.44  M74.55,134.23 C75.38,132.78 77.82,128.27 79.52,125.54 C81.21,122.81 83.86,119.13 84.73,117.85  M67.11,139.19 C68.76,138.94 73.48,138.20 77.03,137.70 C80.59,137.21 86.55,136.46 88.45,136.21  M52.22,150.11 C54.70,149.70 62.35,148.62 67.11,147.63 C71.87,146.64 78.48,144.73 80.76,144.15  M27.41,116.61 C28.65,115.95 32.37,113.67 34.85,112.64 C37.33,111.61 41.05,110.78 42.30,110.41  M52.22,109.17 C52.84,109.99 54.29,113.51 55.94,114.13 C57.60,114.75 61.11,113.10 62.15,112.89  M84.48,127.78 C85.31,128.19 88.10,129.02 89.44,130.26 C90.79,131.50 92.03,134.39 92.54,135.22  M29.89,130.26 C30.51,131.09 33.20,133.36 33.61,135.22 C34.02,137.08 32.58,140.39 32.37,141.42  " fill="none" stroke="#2f3540" stroke-opacity="0.22" stroke-width="0.7" stroke-linecap="round" stroke-linejoin="round"/><rect x="15.7" y="100.2" width="81.1" height="58.5" filter="url(#sul)"/><path d="M34.85,133.98 C35.01,133.15 36.30,131.03 37.33,130.26 C38.37,129.48 45.60,125.24 47.26,124.67 C48.91,124.11 55.63,123.28 57.18,123.43 C58.73,123.59 64.94,125.86 65.87,126.54 C66.80,127.21 68.45,130.78 68.35,131.50 C68.25,132.22 65.25,134.70 64.63,135.22 C64.01,135.74 61.11,137.08 60.91,137.70 C60.70,138.32 62.46,141.84 62.15,142.67 C61.84,143.49 58.42,147.01 57.18,147.63 C55.94,148.25 48.71,150.21 47.26,150.11 C45.81,150.01 40.80,147.21 39.81,146.39 C38.83,145.56 35.89,141.22 35.47,140.18 C35.06,139.15 34.70,134.81 34.85,133.98 Z" fill="#e6e6e6"/><path d="M47.26,142.67 C48.09,141.94 57.18,140.13 58.42,140.18 C59.67,140.24 62.25,142.67 62.15,143.29 C62.04,143.91 58.32,147.16 57.18,147.63 C56.05,148.09 49.33,149.28 48.50,148.87 C47.67,148.45 46.43,143.39 47.26,142.67 Z" fill="#c8c8c8"/><path d="M18.72,133.98 C18.72,131.50 18.93,127.98 19.96,125.30 C21.00,122.61 22.86,120.13 24.93,117.85 C26.99,115.58 29.47,113.30 32.37,111.65 C35.26,109.99 38.99,108.96 42.30,107.93 C45.60,106.89 48.91,106.23 52.22,105.44 C55.53,104.66 59.25,103.31 62.15,103.21 C65.04,103.11 67.11,103.62 69.59,104.82 C72.07,106.02 74.55,108.03 77.03,110.41 C79.52,112.78 82.20,116.20 84.48,119.09 C86.75,121.99 89.13,124.88 90.68,127.78 C92.23,130.67 93.58,134.19 93.78,136.46 C93.99,138.74 93.27,140.39 91.92,141.42 C90.58,142.46 88.20,142.04 85.72,142.67 C83.24,143.29 79.93,143.91 77.03,145.15 C74.14,146.39 71.45,148.45 68.35,150.11 C65.25,151.76 61.73,154.14 58.42,155.07 C55.12,156.00 51.39,156.31 48.50,155.69 C45.60,155.07 42.71,152.69 41.05,151.35 C39.40,150.01 40.23,148.45 38.57,147.63 C36.92,146.80 33.61,147.01 31.13,146.39 C28.65,145.77 25.55,144.94 23.68,143.91 C21.82,142.87 20.79,141.84 19.96,140.18 C19.14,138.53 18.72,136.46 18.72,133.98 Z" fill="url(#shade)"/></g><path d="M18.72,133.98 C18.72,131.50 18.93,127.98 19.96,125.30 C21.00,122.61 22.86,120.13 24.93,117.85 C26.99,115.58 29.47,113.30 32.37,111.65 C35.26,109.99 38.99,108.96 42.30,107.93 C45.60,106.89 48.91,106.23 52.22,105.44 C55.53,104.66 59.25,103.31 62.15,103.21 C65.04,103.11 67.11,103.62 69.59,104.82 C72.07,106.02 74.55,108.03 77.03,110.41 C79.52,112.78 82.20,116.20 84.48,119.09 C86.75,121.99 89.13,124.88 90.68,127.78 C92.23,130.67 93.58,134.19 93.78,136.46 C93.99,138.74 93.27,140.39 91.92,141.42 C90.58,142.46 88.20,142.04 85.72,142.67 C83.24,143.29 79.93,143.91 77.03,145.15 C74.14,146.39 71.45,148.45 68.35,150.11 C65.25,151.76 61.73,154.14 58.42,155.07 C55.12,156.00 51.39,156.31 48.50,155.69 C45.60,155.07 42.71,152.69 41.05,151.35 C39.40,150.01 40.23,148.45 38.57,147.63 C36.92,146.80 33.61,147.01 31.13,146.39 C28.65,145.77 25.55,144.94 23.68,143.91 C21.82,142.87 20.79,141.84 19.96,140.18 C19.14,138.53 18.72,136.46 18.72,133.98 Z" fill="none" stroke="#6a6f75" stroke-opacity="0.35" stroke-width="0.7"/></g>
<g filter="url(#wig2)"><g clip-path="url(#cp_a4)"><rect x="95.1" y="100.6" width="80.4" height="58.7" fill="#4a90cc"/><g filter="url(#wig)"><path d="M103.68,121.57 C103.68,120.75 108.65,114.13 109.89,112.89 C111.13,111.65 117.13,107.46 118.57,106.68 C120.02,105.91 126.64,102.76 127.26,103.58 C127.88,104.41 126.64,115.52 126.02,116.61 C125.40,117.70 121.16,116.09 119.81,116.61 C118.47,117.13 111.23,122.40 109.89,122.81 C108.54,123.23 103.68,122.40 103.68,121.57 Z" fill="#5fa2d6"/><path d="M98.10,136.46 C97.95,135.58 98.36,131.29 98.72,130.26 C99.08,129.22 101.72,124.36 102.44,124.05 C103.17,123.74 106.89,125.61 107.41,126.54 C107.92,127.47 108.85,133.88 108.65,135.22 C108.44,136.56 105.60,142.20 104.93,142.67 C104.25,143.13 101.15,141.32 100.58,140.80 C100.01,140.29 98.26,137.34 98.10,136.46 Z" fill="#b8d2e8"/><path d="M107.41,119.09 C107.51,117.90 112.47,115.58 113.61,115.37 C114.75,115.16 120.12,115.99 121.05,116.61 C121.99,117.23 124.41,121.62 124.78,122.81 C125.14,124.00 125.81,130.00 125.40,130.88 C124.98,131.76 120.90,133.46 119.81,133.36 C118.73,133.26 113.40,130.83 112.37,129.64 C111.34,128.45 107.30,120.28 107.41,119.09 Z" fill="#2068b0"/><path d="M119.81,126.54 C120.64,125.81 129.95,125.09 132.22,125.30 C134.50,125.50 145.25,128.19 147.11,129.02 C148.97,129.84 154.76,134.70 154.55,135.22 C154.35,135.74 146.49,135.32 144.63,135.22 C142.77,135.12 134.08,134.08 132.22,133.98 C130.36,133.88 123.33,134.60 122.30,133.98 C121.26,133.36 118.99,127.26 119.81,126.54 Z" fill="#7fb3dc"/><path d="M125.40,105.44 C125.91,104.36 131.19,103.58 132.22,103.58 C133.25,103.58 137.29,104.57 137.80,105.44 C138.32,106.32 137.65,112.27 138.42,114.13 C139.20,115.99 145.87,126.02 147.11,127.78 C148.35,129.53 152.69,134.08 153.31,135.22 C153.93,136.36 155.07,140.80 154.55,141.42 C154.04,142.04 148.56,143.29 147.11,142.67 C145.66,142.04 138.53,135.32 137.18,133.98 C135.84,132.64 131.91,127.98 130.98,126.54 C130.05,125.09 126.48,118.37 126.02,116.61 C125.55,114.85 124.88,106.53 125.40,105.44 Z" fill="#b3c6d9"/><path d="M138.42,105.44 C139.25,104.98 148.97,106.68 150.83,107.31 C152.69,107.93 159.31,111.80 160.76,112.89 C162.20,113.97 167.32,118.99 168.20,120.33 C169.08,121.68 171.20,127.78 171.30,129.02 C171.41,130.26 170.42,134.81 169.44,135.22 C168.46,135.63 160.96,134.60 159.52,133.98 C158.07,133.36 153.31,128.71 152.07,127.78 C150.83,126.85 145.56,124.05 144.63,122.81 C143.70,121.57 141.42,114.34 140.91,112.89 C140.39,111.44 137.60,105.91 138.42,105.44 Z" fill="#2b74b8"/><path d="M144.63,111.65 C145.35,111.03 152.18,111.13 153.31,111.65 C154.45,112.16 157.97,116.71 158.28,117.85 C158.59,118.99 157.76,124.67 157.03,125.30 C156.31,125.92 150.62,125.81 149.59,125.30 C148.56,124.78 145.04,120.23 144.63,119.09 C144.21,117.95 143.90,112.27 144.63,111.65 Z" fill="#0f4e98"/><path d="M154.55,125.30 C155.28,124.57 163.08,123.64 164.48,124.05 C165.87,124.47 170.79,129.02 171.30,130.26 C171.82,131.50 171.46,138.32 170.68,138.94 C169.91,139.56 163.24,138.22 162.00,137.70 C160.76,137.19 156.41,133.77 155.79,132.74 C155.17,131.71 153.83,126.02 154.55,125.30 Z" fill="#3a84c4"/><path d="M113.61,137.70 C114.33,136.77 122.81,135.22 124.78,135.22 C126.74,135.22 135.32,137.08 137.18,137.70 C139.04,138.32 145.97,141.63 147.11,142.67 C148.25,143.70 150.83,149.08 150.83,150.11 C150.83,151.14 148.25,154.66 147.11,155.07 C145.97,155.49 138.94,155.49 137.18,155.07 C135.43,154.66 127.78,150.83 126.02,150.11 C124.26,149.39 117.13,147.42 116.09,146.39 C115.06,145.35 112.89,138.63 113.61,137.70 Z" fill="#b5bec8"/><path d="M109.89,135.22 C110.61,134.81 118.37,134.91 119.81,135.22 C121.26,135.53 127.26,138.43 127.26,138.94 C127.26,139.46 121.16,141.32 119.81,141.42 C118.47,141.53 111.96,140.70 111.13,140.18 C110.30,139.67 109.16,135.63 109.89,135.22 Z" fill="#b5cfe6"/><path d="M132.22,145.15 C133.05,144.84 143.18,146.90 144.63,147.63 C146.08,148.35 149.80,153.19 149.59,153.83 C149.38,154.47 143.39,155.53 142.15,155.32 C140.91,155.11 135.53,152.20 134.70,151.35 C133.88,150.50 131.39,145.46 132.22,145.15 Z" fill="#c9dcec"/><path d="M153.31,138.94 C153.93,138.30 162.98,138.74 164.48,138.94 C165.98,139.15 171.30,140.89 171.30,141.42 C171.30,141.96 165.67,144.96 164.48,145.39 C163.29,145.83 157.97,147.17 157.03,146.64 C156.10,146.10 152.69,139.58 153.31,138.94 Z" fill="#a8b0b8"/></g><path d="M152.69,140.18 C150.83,139.56 145.45,137.29 141.53,136.46 C137.60,135.63 132.84,136.05 129.12,135.22 C125.40,134.39 121.67,132.84 119.19,131.50 C116.71,130.15 115.06,127.88 114.23,127.16  M147.73,148.25 C145.66,147.36 139.46,144.26 135.32,142.91 C131.19,141.57 127.05,141.26 122.92,140.18 C118.78,139.11 113.71,137.87 110.51,136.46 C107.30,135.06 104.82,132.53 103.68,131.75  M126.64,104.82 C127.22,106.17 129.08,110.26 130.11,112.89 C131.15,115.51 131.81,117.89 132.84,120.58 C133.88,123.27 135.28,126.68 136.32,129.02 C137.35,131.35 138.59,133.67 139.04,134.60  M136.81,105.20 C137.39,106.48 139.33,110.16 140.29,112.89 C141.24,115.62 141.73,118.68 142.52,121.57 C143.30,124.47 144.59,128.81 145.00,130.26  M118.95,108.17 C119.71,109.41 122.30,112.97 123.54,115.62 C124.78,118.26 125.56,121.45 126.39,124.05 C127.22,126.66 128.15,130.05 128.50,131.25  M162.62,116.61 C161.17,116.03 156.87,114.00 153.93,113.14 C151.00,112.27 146.49,111.69 145.00,111.40  M169.44,125.30 C167.89,124.80 163.13,123.10 160.14,122.32 C157.14,121.53 153.89,120.79 151.45,120.58 C149.01,120.37 146.49,120.99 145.50,121.08  M122.67,116.86 C121.26,117.23 116.88,117.93 114.23,119.09 C111.58,120.25 108.96,122.32 106.79,123.81 C104.62,125.30 102.13,127.32 101.20,128.02  M143.76,152.84 C141.94,152.38 136.73,151.14 132.84,150.11 C128.95,149.08 124.26,147.83 120.43,146.64 C116.61,145.44 111.65,143.53 109.89,142.91  M168.82,132.74 C167.58,132.57 163.65,131.54 161.38,131.75 C159.10,131.95 156.21,133.61 155.17,133.98  M109.27,112.89 C108.85,113.72 107.51,116.20 106.79,117.85 C106.06,119.51 105.24,121.99 104.93,122.81  M157.66,127.78 C156.83,128.19 154.04,128.81 152.69,130.26 C151.35,131.71 150.11,135.43 149.59,136.46  " fill="none" stroke="#2f3540" stroke-opacity="0.22" stroke-width="0.7" stroke-linecap="round" stroke-linejoin="round"/><rect x="95.1" y="100.6" width="80.4" height="58.7" filter="url(#sul)"/><path d="M98.10,136.46 C97.69,134.60 97.79,132.74 98.72,130.26 C99.65,127.78 101.82,124.47 103.68,121.57 C105.55,118.68 107.41,115.37 109.89,112.89 C112.37,110.41 115.68,108.24 118.57,106.68 C121.47,105.13 124.16,104.00 127.26,103.58 C130.36,103.17 133.88,103.69 137.18,104.20 C140.49,104.72 143.80,105.44 147.11,106.68 C150.42,107.93 153.93,109.58 157.03,111.65 C160.14,113.72 163.44,116.40 165.72,119.09 C167.99,121.78 169.55,125.09 170.68,127.78 C171.82,130.46 172.54,132.74 172.54,135.22 C172.54,137.70 172.03,141.01 170.68,142.67 C169.34,144.32 166.75,144.53 164.48,145.15 C162.20,145.77 159.10,145.97 157.03,146.39 C154.97,146.80 153.31,146.59 152.07,147.63 C150.83,148.66 150.83,151.14 149.59,152.59 C148.35,154.04 146.90,155.90 144.63,156.31 C142.35,156.73 139.04,156.11 135.94,155.07 C132.84,154.04 129.33,151.56 126.02,150.11 C122.71,148.66 119.19,147.21 116.09,146.39 C112.99,145.56 109.89,145.97 107.41,145.15 C104.93,144.32 102.75,142.87 101.20,141.42 C99.65,139.98 98.52,138.32 98.10,136.46 Z" fill="url(#shade)"/></g><path d="M98.10,136.46 C97.69,134.60 97.79,132.74 98.72,130.26 C99.65,127.78 101.82,124.47 103.68,121.57 C105.55,118.68 107.41,115.37 109.89,112.89 C112.37,110.41 115.68,108.24 118.57,106.68 C121.47,105.13 124.16,104.00 127.26,103.58 C130.36,103.17 133.88,103.69 137.18,104.20 C140.49,104.72 143.80,105.44 147.11,106.68 C150.42,107.93 153.93,109.58 157.03,111.65 C160.14,113.72 163.44,116.40 165.72,119.09 C167.99,121.78 169.55,125.09 170.68,127.78 C171.82,130.46 172.54,132.74 172.54,135.22 C172.54,137.70 172.03,141.01 170.68,142.67 C169.34,144.32 166.75,144.53 164.48,145.15 C162.20,145.77 159.10,145.97 157.03,146.39 C154.97,146.80 153.31,146.59 152.07,147.63 C150.83,148.66 150.83,151.14 149.59,152.59 C148.35,154.04 146.90,155.90 144.63,156.31 C142.35,156.73 139.04,156.11 135.94,155.07 C132.84,154.04 129.33,151.56 126.02,150.11 C122.71,148.66 119.19,147.21 116.09,146.39 C112.99,145.56 109.89,145.97 107.41,145.15 C104.93,144.32 102.75,142.87 101.20,141.42 C99.65,139.98 98.52,138.32 98.10,136.46 Z" fill="none" stroke="#6a6f75" stroke-opacity="0.35" stroke-width="0.7"/></g>
<g filter="url(#wig2)"><g clip-path="url(#cp_e1)"><rect x="501.3" y="34.0" width="80.4" height="59.3" fill="#e8805f"/><g filter="url(#wig)"><path d="M504.34,67.98 C504.34,66.95 504.50,61.88 504.96,60.54 C505.43,59.19 508.89,53.04 509.93,51.85 C510.96,50.66 516.28,46.89 517.37,46.27 C518.46,45.65 522.44,43.53 522.95,44.41 C523.47,45.29 523.73,54.95 523.57,56.81 C523.42,58.67 521.82,65.40 521.09,66.74 C520.37,68.08 516.03,72.22 514.89,72.94 C513.75,73.67 508.27,75.42 507.44,75.42 C506.62,75.42 505.22,73.56 504.96,72.94 C504.70,72.32 504.34,69.01 504.34,67.98 Z" fill="#e6a592"/><path d="M522.33,41.93 C523.21,40.84 531.12,38.62 532.26,38.82 C533.40,39.03 535.77,42.70 535.98,44.41 C536.19,46.11 535.67,57.95 534.74,59.30 C533.81,60.64 525.90,61.16 524.81,60.54 C523.73,59.92 521.92,53.40 521.71,51.85 C521.51,50.30 521.45,43.01 522.33,41.93 Z" fill="#e8704f"/><path d="M532.26,40.68 C532.93,39.81 538.36,37.89 539.70,37.58 C541.05,37.27 547.15,36.81 548.39,36.96 C549.63,37.12 553.97,38.31 554.59,39.44 C555.21,40.58 555.93,48.54 555.83,50.61 C555.73,52.68 554.07,62.40 553.35,64.26 C552.63,66.12 548.49,71.91 547.15,72.94 C545.80,73.98 538.56,76.67 537.22,76.67 C535.88,76.67 531.64,74.39 531.02,72.94 C530.40,71.50 529.72,61.36 529.78,59.30 C529.83,57.23 531.43,49.68 531.64,48.13 C531.84,46.58 531.59,41.56 532.26,40.68 Z" fill="#c8161c"/><path d="M548.39,50.61 C549.11,48.75 555.00,47.41 555.83,48.13 C556.66,48.85 558.52,57.64 558.31,59.30 C558.11,60.95 554.28,67.05 553.35,67.98 C552.42,68.91 547.56,71.91 547.15,70.46 C546.73,69.01 547.66,52.47 548.39,50.61 Z" fill="#e0432e"/><path d="M554.59,44.41 C555.11,42.75 560.79,42.65 562.03,43.17 C563.28,43.68 568.34,49.27 569.48,50.61 C570.62,51.95 574.91,57.85 575.68,59.30 C576.46,60.74 578.58,66.74 578.78,67.98 C578.99,69.22 578.94,73.46 578.16,74.18 C577.39,74.91 571.03,76.77 569.48,76.67 C567.93,76.56 560.69,74.08 559.55,72.94 C558.42,71.81 556.24,65.40 555.83,63.02 C555.42,60.64 554.07,46.06 554.59,44.41 Z" fill="#e89a80"/><path d="M559.55,50.61 C560.17,49.37 568.44,50.71 569.48,51.85 C570.51,52.99 572.58,63.02 571.96,64.26 C571.34,65.50 563.07,67.88 562.03,66.74 C561.00,65.60 558.93,51.85 559.55,50.61 Z" fill="#dcae9e"/><path d="M504.96,66.74 C505.69,65.91 513.03,64.26 514.89,64.26 C516.75,64.26 526.16,65.50 527.30,66.74 C528.43,67.98 529.05,77.91 528.54,79.15 C528.02,80.39 522.44,81.63 521.09,81.63 C519.75,81.63 513.65,79.77 512.41,79.15 C511.17,78.53 506.82,75.22 506.20,74.18 C505.58,73.15 504.24,67.57 504.96,66.74 Z" fill="#ee7a58"/><path d="M524.81,82.87 C524.81,81.83 527.30,76.25 528.54,75.42 C529.78,74.60 537.94,73.05 539.70,72.94 C541.46,72.84 548.18,74.18 549.63,74.18 C551.08,74.18 556.35,72.53 557.07,72.94 C557.80,73.36 558.73,78.22 558.31,79.15 C557.90,80.08 553.25,83.39 552.11,84.11 C550.97,84.83 546.01,87.31 544.67,87.83 C543.32,88.35 537.32,90.31 535.98,90.31 C534.64,90.31 529.47,88.45 528.54,87.83 C527.61,87.21 524.81,83.90 524.81,82.87 Z" fill="#cc2020"/><path d="M527.92,74.18 C528.64,73.46 537.48,72.43 538.46,72.94 C539.44,73.46 540.43,79.66 539.70,80.39 C538.98,81.11 530.76,82.14 529.78,81.63 C528.79,81.11 527.19,74.91 527.92,74.18 Z" fill="#d0907c"/><path d="M557.07,72.94 C557.90,72.37 568.03,72.63 569.48,72.94 C570.93,73.25 574.65,76.20 574.44,76.67 C574.23,77.13 568.24,78.27 567.00,78.53 C565.76,78.78 560.38,80.23 559.55,79.77 C558.73,79.30 556.24,73.51 557.07,72.94 Z" fill="#e25a40"/></g><path d="M524.19,73.99 C526.05,73.37 531.43,71.06 535.36,70.23 C539.29,69.39 544.04,69.81 547.77,68.97 C551.49,68.14 555.21,66.57 557.69,65.21 C560.17,63.85 561.83,61.55 562.66,60.81  M529.16,82.15 C531.22,81.25 537.43,78.12 541.56,76.76 C545.70,75.40 549.83,75.08 553.97,73.99 C558.11,72.91 563.17,71.65 566.38,70.23 C569.58,68.81 572.06,66.25 573.20,65.46  M550.25,38.22 C549.67,39.58 547.81,43.72 546.77,46.38 C545.74,49.03 545.08,51.44 544.04,54.16 C543.01,56.88 541.60,60.33 540.57,62.70 C539.54,65.06 538.30,67.40 537.84,68.35  M540.07,38.59 C539.50,39.89 537.55,43.62 536.60,46.38 C535.65,49.14 535.15,52.24 534.37,55.16 C533.58,58.09 532.30,62.49 531.89,63.95  M557.94,41.61 C557.18,42.86 554.59,46.46 553.35,49.14 C552.11,51.82 551.32,55.04 550.50,57.68 C549.67,60.31 548.74,63.74 548.39,64.96  M514.27,50.14 C515.72,49.56 520.02,47.51 522.95,46.63 C525.89,45.75 530.40,45.16 531.89,44.87  M507.44,58.93 C509.00,58.43 513.75,56.71 516.75,55.92 C519.75,55.12 522.99,54.37 525.43,54.16 C527.87,53.95 530.40,54.58 531.39,54.66  M554.22,50.39 C555.62,50.77 560.01,51.48 562.66,52.65 C565.30,53.83 567.93,55.92 570.10,57.42 C572.27,58.93 574.75,60.98 575.68,61.69  M533.13,86.80 C534.95,86.34 540.16,85.08 544.04,84.04 C547.93,82.99 552.63,81.73 556.45,80.52 C560.28,79.31 565.24,77.38 567.00,76.76  M508.06,66.46 C509.31,66.29 513.23,65.25 515.51,65.46 C517.78,65.67 520.68,67.34 521.71,67.72  M567.62,46.38 C568.03,47.21 569.38,49.72 570.10,51.40 C570.82,53.07 571.65,55.58 571.96,56.42  M519.23,61.44 C520.06,61.86 522.85,62.49 524.19,63.95 C525.54,65.42 526.78,69.18 527.30,70.23  " fill="none" stroke="#2f3540" stroke-opacity="0.22" stroke-width="0.7" stroke-linecap="round" stroke-linejoin="round"/><rect x="501.3" y="34.0" width="80.4" height="59.3" filter="url(#sulr)"/><path d="M504.34,67.98 C504.34,65.91 504.03,63.22 504.96,60.54 C505.89,57.85 507.86,54.33 509.93,51.85 C511.99,49.37 514.47,47.51 517.37,45.65 C520.26,43.79 523.99,41.97 527.30,40.68 C530.60,39.40 533.91,38.58 537.22,37.96 C540.53,37.33 544.25,36.82 547.15,36.96 C550.04,37.11 552.11,37.79 554.59,38.82 C557.07,39.86 559.55,41.20 562.03,43.17 C564.52,45.13 567.20,47.92 569.48,50.61 C571.75,53.30 574.13,56.40 575.68,59.30 C577.23,62.19 578.37,65.50 578.78,67.98 C579.20,70.46 579.09,72.74 578.16,74.18 C577.23,75.63 575.06,76.04 573.20,76.67 C571.34,77.29 569.27,77.49 567.00,77.91 C564.72,78.32 562.03,78.11 559.55,79.15 C557.07,80.18 554.59,82.66 552.11,84.11 C549.63,85.56 547.35,86.80 544.67,87.83 C541.98,88.87 538.67,90.31 535.98,90.31 C533.29,90.31 530.40,89.07 528.54,87.83 C526.67,86.59 526.05,84.01 524.81,82.87 C523.57,81.73 522.95,81.42 521.09,81.01 C519.23,80.59 515.92,81.11 513.65,80.39 C511.37,79.66 508.89,77.91 507.44,76.67 C506.00,75.42 505.48,74.39 504.96,72.94 C504.45,71.50 504.34,70.05 504.34,67.98 Z" fill="url(#shade)"/></g><path d="M504.34,67.98 C504.34,65.91 504.03,63.22 504.96,60.54 C505.89,57.85 507.86,54.33 509.93,51.85 C511.99,49.37 514.47,47.51 517.37,45.65 C520.26,43.79 523.99,41.97 527.30,40.68 C530.60,39.40 533.91,38.58 537.22,37.96 C540.53,37.33 544.25,36.82 547.15,36.96 C550.04,37.11 552.11,37.79 554.59,38.82 C557.07,39.86 559.55,41.20 562.03,43.17 C564.52,45.13 567.20,47.92 569.48,50.61 C571.75,53.30 574.13,56.40 575.68,59.30 C577.23,62.19 578.37,65.50 578.78,67.98 C579.20,70.46 579.09,72.74 578.16,74.18 C577.23,75.63 575.06,76.04 573.20,76.67 C571.34,77.29 569.27,77.49 567.00,77.91 C564.72,78.32 562.03,78.11 559.55,79.15 C557.07,80.18 554.59,82.66 552.11,84.11 C549.63,85.56 547.35,86.80 544.67,87.83 C541.98,88.87 538.67,90.31 535.98,90.31 C533.29,90.31 530.40,89.07 528.54,87.83 C526.67,86.59 526.05,84.01 524.81,82.87 C523.57,81.73 522.95,81.42 521.09,81.01 C519.23,80.59 515.92,81.11 513.65,80.39 C511.37,79.66 508.89,77.91 507.44,76.67 C506.00,75.42 505.48,74.39 504.96,72.94 C504.45,71.50 504.34,70.05 504.34,67.98 Z" fill="none" stroke="#6a6f75" stroke-opacity="0.35" stroke-width="0.7"/></g>
<g filter="url(#wig2)"><g clip-path="url(#cp_e2)"><rect x="581.3" y="34.0" width="80.4" height="59.3" fill="#e9967a"/><g filter="url(#wig)"><path d="M594.27,43.17 C595.20,42.24 603.52,39.86 604.81,39.44 C606.11,39.03 609.36,37.27 609.78,38.20 C610.19,39.13 610.71,49.06 609.78,50.61 C608.85,52.16 599.95,56.81 598.61,56.81 C597.27,56.81 594.01,51.75 593.65,50.61 C593.29,49.47 593.34,44.10 594.27,43.17 Z" fill="#e02a20"/><path d="M604.19,38.20 C604.81,37.07 614.79,36.86 617.22,36.96 C619.65,37.07 632.01,38.41 633.35,39.44 C634.69,40.48 634.69,48.28 633.35,49.37 C632.01,50.46 618.77,51.80 617.22,52.47 C615.67,53.14 615.36,57.59 614.74,57.43 C614.12,57.28 610.66,52.21 609.78,50.61 C608.90,49.01 603.57,39.34 604.19,38.20 Z" fill="#d01c1c"/><path d="M629.01,39.94 C629.73,38.80 637.43,40.73 638.31,41.93 C639.19,43.12 640.28,53.20 639.55,54.33 C638.83,55.47 630.51,56.77 629.63,55.57 C628.75,54.37 628.28,41.08 629.01,39.94 Z" fill="#ec8a6c"/><path d="M635.83,44.41 C636.76,43.79 649.01,50.51 650.72,51.85 C652.43,53.20 655.63,59.09 656.30,60.54 C656.97,61.98 658.94,67.67 658.78,69.22 C658.63,70.77 655.42,78.32 654.44,79.15 C653.46,79.97 647.82,79.97 647.00,79.15 C646.17,78.32 645.14,70.88 644.52,69.22 C643.90,67.57 640.28,61.36 639.55,59.30 C638.83,57.23 634.90,45.03 635.83,44.41 Z" fill="#eeb49c"/><path d="M584.96,63.02 C585.79,61.57 592.92,55.06 594.89,54.33 C596.85,53.61 607.09,53.51 608.54,54.33 C609.98,55.16 612.57,62.81 612.26,64.26 C611.95,65.71 606.47,70.88 604.81,71.70 C603.16,72.53 594.06,74.18 592.41,74.18 C590.75,74.18 585.58,72.63 584.96,71.70 C584.34,70.77 584.14,64.46 584.96,63.02 Z" fill="#e9a08a"/><path d="M587.44,72.94 C587.86,72.37 593.65,69.32 594.89,69.22 C596.13,69.12 602.02,71.08 602.33,71.70 C602.64,72.32 599.64,76.30 598.61,76.67 C597.58,77.03 590.86,76.35 589.93,76.04 C589.00,75.73 587.03,73.51 587.44,72.94 Z" fill="#e0503a"/><path d="M594.27,74.80 C595.30,74.39 605.38,72.89 607.30,72.94 C609.21,72.99 615.57,74.80 617.22,75.42 C618.88,76.04 625.39,79.87 627.15,80.39 C628.90,80.90 637.38,81.11 638.31,81.63 C639.24,82.14 638.83,85.87 638.31,86.59 C637.80,87.31 633.14,90.05 632.11,90.31 C631.08,90.57 626.94,90.11 625.91,89.69 C624.87,89.28 620.84,86.02 619.70,85.35 C618.56,84.68 613.71,82.09 612.26,81.63 C610.81,81.16 603.78,80.08 602.33,79.77 C600.89,79.46 595.56,78.32 594.89,77.91 C594.22,77.49 593.23,75.22 594.27,74.80 Z" fill="#d41c1c"/></g><path d="M655.09,69.50 C654.64,68.07 654.23,63.45 652.39,60.93 C650.54,58.40 647.67,56.05 644.02,54.37 C640.37,52.69 635.20,51.47 630.48,50.84 C625.77,50.21 619.20,51.42 615.72,50.58 C612.23,49.74 611.04,47.68 609.57,45.79 C608.09,43.90 607.31,40.33 606.86,39.23  M603.41,68.49 C602.59,67.02 600.17,62.44 598.49,59.66 C596.81,56.89 594.19,53.15 593.32,51.85  M610.80,73.54 C609.16,73.29 604.48,72.53 600.95,72.02 C597.43,71.52 591.52,70.76 589.63,70.51  M625.56,84.64 C623.10,84.22 615.51,83.12 610.80,82.11 C606.08,81.11 599.52,79.17 597.26,78.58  M650.17,50.58 C648.94,49.91 645.25,47.60 642.79,46.55 C640.33,45.50 636.64,44.66 635.41,44.28  M625.56,43.02 C624.95,43.86 623.51,47.43 621.87,48.06 C620.23,48.69 616.74,47.01 615.72,46.80  M593.57,61.94 C592.75,62.36 589.98,63.20 588.65,64.46 C587.32,65.72 586.09,68.66 585.57,69.50  M647.71,64.46 C647.09,65.30 644.43,67.61 644.02,69.50 C643.61,71.39 645.04,74.76 645.25,75.81  " fill="none" stroke="#2f3540" stroke-opacity="0.22" stroke-width="0.7" stroke-linecap="round" stroke-linejoin="round"/><rect x="581.3" y="34.0" width="80.4" height="59.3" filter="url(#sulr)"/><path d="M609.78,61.78 C610.09,60.85 614.33,58.42 615.98,58.05 C617.63,57.69 627.56,57.12 629.63,57.43 C631.70,57.74 639.66,60.90 640.79,61.78 C641.93,62.66 643.48,67.15 643.28,67.98 C643.07,68.81 639.45,71.19 638.31,71.70 C637.18,72.22 630.56,73.56 629.63,74.18 C628.70,74.80 627.77,78.73 627.15,79.15 C626.53,79.56 623.01,79.56 622.18,79.15 C621.36,78.73 618.05,75.01 617.22,74.18 C616.39,73.36 612.88,70.25 612.26,69.22 C611.64,68.19 609.47,62.71 609.78,61.78 Z" fill="#e8e8e8"/><path d="M617.22,72.94 C617.43,72.22 623.84,71.08 624.67,71.70 C625.49,72.32 627.35,79.66 627.15,80.39 C626.94,81.11 623.01,81.01 622.18,80.39 C621.36,79.77 617.01,73.67 617.22,72.94 Z" fill="#b8b8b8"/><path d="M584.34,70.46 C584.24,68.29 584.65,64.67 585.58,61.78 C586.51,58.88 588.17,55.99 589.93,53.09 C591.68,50.20 593.65,46.78 596.13,44.41 C598.61,42.03 601.92,40.06 604.81,38.82 C607.71,37.58 610.40,37.17 613.50,36.96 C616.60,36.76 620.12,36.96 623.42,37.58 C626.73,38.20 630.25,39.55 633.35,40.68 C636.45,41.82 639.14,42.55 642.03,44.41 C644.93,46.27 648.34,49.16 650.72,51.85 C653.10,54.54 654.96,57.64 656.30,60.54 C657.65,63.43 658.68,66.53 658.78,69.22 C658.89,71.91 658.27,74.91 656.92,76.67 C655.58,78.42 652.99,79.04 650.72,79.77 C648.44,80.49 645.34,80.70 643.28,81.01 C641.21,81.32 639.14,80.70 638.31,81.63 C637.49,82.56 639.35,85.14 638.31,86.59 C637.28,88.04 634.18,89.80 632.11,90.31 C630.04,90.83 627.97,90.52 625.91,89.69 C623.84,88.87 621.98,86.69 619.70,85.35 C617.43,84.01 615.15,82.56 612.26,81.63 C609.36,80.70 605.64,80.39 602.33,79.77 C599.02,79.15 595.10,78.73 592.41,77.91 C589.72,77.08 587.55,76.04 586.20,74.80 C584.86,73.56 584.45,72.63 584.34,70.46 Z" fill="url(#shade)"/></g><path d="M584.34,70.46 C584.24,68.29 584.65,64.67 585.58,61.78 C586.51,58.88 588.17,55.99 589.93,53.09 C591.68,50.20 593.65,46.78 596.13,44.41 C598.61,42.03 601.92,40.06 604.81,38.82 C607.71,37.58 610.40,37.17 613.50,36.96 C616.60,36.76 620.12,36.96 623.42,37.58 C626.73,38.20 630.25,39.55 633.35,40.68 C636.45,41.82 639.14,42.55 642.03,44.41 C644.93,46.27 648.34,49.16 650.72,51.85 C653.10,54.54 654.96,57.64 656.30,60.54 C657.65,63.43 658.68,66.53 658.78,69.22 C658.89,71.91 658.27,74.91 656.92,76.67 C655.58,78.42 652.99,79.04 650.72,79.77 C648.44,80.49 645.34,80.70 643.28,81.01 C641.21,81.32 639.14,80.70 638.31,81.63 C637.49,82.56 639.35,85.14 638.31,86.59 C637.28,88.04 634.18,89.80 632.11,90.31 C630.04,90.83 627.97,90.52 625.91,89.69 C623.84,88.87 621.98,86.69 619.70,85.35 C617.43,84.01 615.15,82.56 612.26,81.63 C609.36,80.70 605.64,80.39 602.33,79.77 C599.02,79.15 595.10,78.73 592.41,77.91 C589.72,77.08 587.55,76.04 586.20,74.80 C584.86,73.56 584.45,72.63 584.34,70.46 Z" fill="none" stroke="#6a6f75" stroke-opacity="0.35" stroke-width="0.7"/></g>
<g filter="url(#wig2)"><g clip-path="url(#cp_e3)"><rect x="497.7" y="102.6" width="79.8" height="58.1" fill="#ee8c6c"/><g filter="url(#wig)"><path d="M500.72,137.22 C500.72,136.08 501.34,129.98 501.96,128.54 C502.58,127.09 506.93,121.09 508.17,119.85 C509.41,118.61 515.40,114.42 516.85,113.65 C518.30,112.87 524.61,109.82 525.54,110.55 C526.47,111.27 528.33,120.73 528.02,122.33 C527.71,123.94 522.74,128.54 521.81,129.78 C520.88,131.02 516.85,135.88 516.85,137.22 C516.85,138.56 522.02,144.98 521.81,145.91 C521.61,146.84 515.61,148.39 514.37,148.39 C513.13,148.39 507.96,146.42 506.93,145.91 C505.89,145.39 502.48,142.91 501.96,142.18 C501.45,141.46 500.72,138.36 500.72,137.22 Z" fill="#efb39b"/><path d="M544.15,105.58 C544.25,104.70 550.35,106.26 551.59,106.82 C552.83,107.39 558.72,111.53 559.03,112.41 C559.34,113.29 556.04,116.96 555.31,117.37 C554.59,117.78 551.28,118.35 550.35,117.37 C549.42,116.39 544.04,106.46 544.15,105.58 Z" fill="#e8402a"/><path d="M534.22,119.85 C535.56,119.13 549.01,116.96 550.35,117.37 C551.69,117.78 551.69,124.09 550.35,124.81 C549.01,125.54 535.56,126.47 534.22,126.05 C532.88,125.64 532.88,120.57 534.22,119.85 Z" fill="#e63a28"/><path d="M550.35,117.37 C551.18,116.23 558.93,113.34 560.28,113.65 C561.62,113.96 566.38,119.75 566.48,121.09 C566.58,122.44 562.86,129.26 561.52,129.78 C560.17,130.29 551.28,128.33 550.35,127.30 C549.42,126.26 549.52,118.51 550.35,117.37 Z" fill="#f0b8a0"/><path d="M560.28,122.33 C561.00,121.20 566.69,120.47 567.72,121.09 C568.75,121.71 572.11,128.43 572.68,129.78 C573.25,131.12 574.65,136.08 574.54,137.22 C574.44,138.36 572.32,143.01 571.44,143.42 C570.56,143.84 565.03,142.91 564.00,142.18 C562.96,141.46 559.34,136.39 559.03,134.74 C558.72,133.09 559.55,123.47 560.28,122.33 Z" fill="#ee7a58"/><path d="M520.57,149.63 C521.09,148.90 526.36,145.08 528.02,144.67 C529.67,144.25 538.67,145.08 540.42,144.67 C542.18,144.25 547.77,140.74 549.11,139.70 C550.45,138.67 555.42,132.46 556.55,132.26 C557.69,132.05 562.14,136.19 562.76,137.22 C563.38,138.25 564.93,143.63 564.00,144.67 C563.07,145.70 553.24,148.80 551.59,149.63 C549.94,150.45 545.39,153.92 544.15,154.59 C542.91,155.26 538.05,157.49 536.70,157.69 C535.36,157.90 529.26,157.43 528.02,157.07 C526.78,156.71 522.43,153.97 521.81,153.35 C521.19,152.73 520.06,150.35 520.57,149.63 Z" fill="#d01818"/></g><path d="M504.38,137.37 C504.83,135.97 505.24,131.45 507.07,128.99 C508.90,126.53 511.74,124.23 515.36,122.58 C518.98,120.94 524.11,119.75 528.79,119.13 C533.46,118.52 539.97,119.71 543.43,118.89 C546.89,118.07 548.07,116.05 549.53,114.21 C550.99,112.36 551.77,108.87 552.21,107.80  M555.63,136.38 C556.44,134.94 558.84,130.47 560.51,127.76 C562.18,125.05 564.78,121.39 565.64,120.12  M548.31,141.31 C549.94,141.06 554.57,140.32 558.07,139.83 C561.57,139.34 567.43,138.60 569.30,138.35  M533.67,152.15 C536.11,151.74 543.63,150.67 548.31,149.68 C552.99,148.70 559.49,146.81 561.73,146.24  M509.26,118.89 C510.48,118.23 514.14,115.97 516.58,114.95 C519.02,113.92 522.69,113.10 523.91,112.73  M533.67,111.50 C534.28,112.32 535.70,115.81 537.33,116.42 C538.95,117.04 542.41,115.40 543.43,115.19  M565.39,129.97 C566.21,130.39 568.95,131.21 570.27,132.44 C571.59,133.67 572.81,136.54 573.32,137.37  M511.70,132.44 C512.31,133.26 514.96,135.52 515.36,137.37 C515.77,139.21 514.35,142.50 514.14,143.53  " fill="none" stroke="#2f3540" stroke-opacity="0.22" stroke-width="0.7" stroke-linecap="round" stroke-linejoin="round"/><rect x="497.7" y="102.6" width="79.8" height="58.1" filter="url(#sulr)"/><path d="M516.85,135.98 C516.85,134.95 520.78,130.55 521.81,129.78 C522.85,129.00 527.71,126.99 529.26,126.67 C530.81,126.36 538.77,125.80 540.42,126.05 C542.08,126.31 548.39,129.05 549.11,129.78 C549.83,130.50 549.42,133.91 549.11,134.74 C548.80,135.57 546.01,139.08 545.39,139.70 C544.77,140.32 542.60,141.56 541.67,142.18 C540.73,142.80 535.36,146.84 534.22,147.15 C533.08,147.46 529.05,146.32 528.02,145.91 C526.98,145.49 522.74,143.01 521.81,142.18 C520.88,141.36 516.85,137.01 516.85,135.98 Z" fill="#e8e8e8"/><path d="M528.02,144.67 C528.64,144.10 537.12,141.87 537.94,142.18 C538.77,142.49 538.56,147.82 537.94,148.39 C537.32,148.96 531.33,149.32 530.50,149.01 C529.67,148.70 527.40,145.23 528.02,144.67 Z" fill="#c0c0c0"/><path d="M500.72,138.46 C500.72,136.39 500.93,132.67 501.96,129.78 C503.00,126.88 504.86,123.57 506.93,121.09 C508.99,118.61 511.47,116.65 514.37,114.89 C517.26,113.13 520.99,111.68 524.30,110.55 C527.60,109.41 530.91,108.89 534.22,108.06 C537.53,107.24 541.25,105.79 544.15,105.58 C547.04,105.38 548.90,105.48 551.59,106.82 C554.28,108.17 557.59,111.27 560.28,113.65 C562.96,116.03 565.65,118.40 567.72,121.09 C569.79,123.78 571.55,127.09 572.68,129.78 C573.82,132.46 574.54,134.95 574.54,137.22 C574.54,139.50 574.03,141.98 572.68,143.42 C571.34,144.87 568.75,145.29 566.48,145.91 C564.20,146.53 561.52,146.53 559.03,147.15 C556.55,147.77 554.07,148.39 551.59,149.63 C549.11,150.87 546.63,153.25 544.15,154.59 C541.67,155.93 539.39,157.28 536.70,157.69 C534.01,158.11 530.50,157.80 528.02,157.07 C525.54,156.35 523.05,154.59 521.81,153.35 C520.57,152.11 521.81,150.45 520.57,149.63 C519.33,148.80 516.64,149.01 514.37,148.39 C512.10,147.77 508.99,146.94 506.93,145.91 C504.86,144.87 503.00,143.42 501.96,142.18 C500.93,140.94 500.72,140.53 500.72,138.46 Z" fill="url(#shade)"/></g><path d="M500.72,138.46 C500.72,136.39 500.93,132.67 501.96,129.78 C503.00,126.88 504.86,123.57 506.93,121.09 C508.99,118.61 511.47,116.65 514.37,114.89 C517.26,113.13 520.99,111.68 524.30,110.55 C527.60,109.41 530.91,108.89 534.22,108.06 C537.53,107.24 541.25,105.79 544.15,105.58 C547.04,105.38 548.90,105.48 551.59,106.82 C554.28,108.17 557.59,111.27 560.28,113.65 C562.96,116.03 565.65,118.40 567.72,121.09 C569.79,123.78 571.55,127.09 572.68,129.78 C573.82,132.46 574.54,134.95 574.54,137.22 C574.54,139.50 574.03,141.98 572.68,143.42 C571.34,144.87 568.75,145.29 566.48,145.91 C564.20,146.53 561.52,146.53 559.03,147.15 C556.55,147.77 554.07,148.39 551.59,149.63 C549.11,150.87 546.63,153.25 544.15,154.59 C541.67,155.93 539.39,157.28 536.70,157.69 C534.01,158.11 530.50,157.80 528.02,157.07 C525.54,156.35 523.05,154.59 521.81,153.35 C520.57,152.11 521.81,150.45 520.57,149.63 C519.33,148.80 516.64,149.01 514.37,148.39 C512.10,147.77 508.99,146.94 506.93,145.91 C504.86,144.87 503.00,143.42 501.96,142.18 C500.93,140.94 500.72,140.53 500.72,138.46 Z" fill="none" stroke="#6a6f75" stroke-opacity="0.35" stroke-width="0.7"/></g>
<g filter="url(#wig2)"><g clip-path="url(#cp_e4)"><rect x="575.7" y="102.2" width="79.8" height="59.1" fill="#ea8c70"/><g filter="url(#wig)"><path d="M612.22,106.95 C613.15,106.22 625.04,108.13 627.11,108.68 C629.18,109.24 635.48,112.61 637.03,113.65 C638.59,114.68 644.69,119.75 645.72,121.09 C646.75,122.44 649.23,128.54 649.44,129.78 C649.65,131.02 649.03,135.57 648.20,135.98 C647.37,136.39 640.86,135.36 639.52,134.74 C638.17,134.12 633.31,129.67 632.07,128.54 C630.83,127.40 625.97,122.02 624.63,121.09 C623.28,120.16 616.98,118.55 615.94,117.37 C614.91,116.19 611.29,107.67 612.22,106.95 Z" fill="#e6b2a0"/><path d="M631.45,129.78 C632.49,128.85 642.82,128.12 644.48,128.54 C646.13,128.95 650.73,133.40 651.30,134.74 C651.87,136.08 651.87,143.58 651.30,144.67 C650.73,145.75 645.87,147.56 644.48,147.77 C643.08,147.97 635.59,147.82 634.55,147.15 C633.52,146.47 632.33,141.15 632.07,139.70 C631.81,138.25 630.42,130.71 631.45,129.78 Z" fill="#e8a08a"/><path d="M646.96,140.94 C647.22,140.32 650.89,139.39 651.30,139.70 C651.72,140.01 652.18,144.04 651.92,144.67 C651.66,145.29 648.61,147.46 648.20,147.15 C647.79,146.84 646.70,141.56 646.96,140.94 Z" fill="#e8dcd6"/><path d="M578.72,138.46 C578.62,137.48 579.34,131.78 579.96,131.02 C580.58,130.25 585.39,128.76 586.17,129.28 C586.94,129.80 589.27,135.84 589.27,137.22 C589.27,138.61 586.84,145.44 586.17,145.91 C585.49,146.37 581.82,143.42 581.20,142.80 C580.58,142.18 578.83,139.44 578.72,138.46 Z" fill="#d8bcb0"/><path d="M586.79,122.33 C587.10,120.99 591.28,114.84 592.37,113.65 C593.46,112.46 598.57,108.74 599.81,108.06 C601.05,107.39 606.43,105.01 607.26,105.58 C608.09,106.15 609.64,112.91 609.74,114.89 C609.84,116.86 609.53,127.94 608.50,129.28 C607.46,130.62 598.99,130.98 597.33,131.02 C595.68,131.06 589.53,130.50 588.65,129.78 C587.77,129.05 586.48,123.68 586.79,122.33 Z" fill="#e8603f"/><path d="M599.81,108.68 C600.33,107.70 605.19,105.58 606.02,105.58 C606.84,105.58 609.74,107.60 609.74,108.68 C609.74,109.77 606.84,117.89 606.02,118.61 C605.19,119.33 600.33,118.20 599.81,117.37 C599.30,116.54 599.30,109.67 599.81,108.68 Z" fill="#d8261d"/><path d="M599.81,129.78 C599.61,128.12 602.50,119.69 603.54,118.61 C604.57,117.54 610.46,116.77 612.22,116.87 C613.98,116.98 622.87,118.57 624.63,119.85 C626.39,121.13 632.59,130.40 633.31,132.26 C634.04,134.12 633.83,141.25 633.31,142.18 C632.80,143.11 628.56,143.53 627.11,143.42 C625.66,143.32 617.70,141.36 615.94,140.94 C614.19,140.53 607.36,139.39 606.02,138.46 C604.67,137.53 600.02,131.43 599.81,129.78 Z" fill="#cc1818"/><path d="M601.67,142.18 C602.09,141.46 610.51,143.11 612.22,143.42 C613.93,143.73 620.39,145.60 622.15,145.91 C623.90,146.22 632.49,146.42 633.31,147.15 C634.14,147.87 632.80,153.66 632.07,154.59 C631.35,155.52 625.87,158.11 624.63,158.31 C623.39,158.52 618.63,157.59 617.18,157.07 C615.74,156.56 608.55,153.35 607.26,152.11 C605.97,150.87 601.26,142.91 601.67,142.18 Z" fill="#d0181a"/><path d="M589.89,137.22 C590.82,136.81 598.78,136.70 599.81,137.22 C600.85,137.74 602.81,142.70 602.30,143.42 C601.78,144.15 594.75,146.01 593.61,145.91 C592.47,145.80 588.96,142.91 588.65,142.18 C588.34,141.46 588.96,137.63 589.89,137.22 Z" fill="#e4a08a"/></g><path d="M632.86,142.07 C631.01,141.45 625.68,139.15 621.78,138.32 C617.89,137.49 613.17,137.90 609.48,137.07 C605.79,136.24 602.10,134.68 599.64,133.32 C597.18,131.97 595.54,129.68 594.72,128.95  M627.94,150.19 C625.89,149.30 619.73,146.17 615.63,144.82 C611.53,143.46 607.43,143.15 603.33,142.07 C599.23,140.99 594.20,139.74 591.03,138.32 C587.85,136.91 585.39,134.36 584.26,133.57  M607.02,106.46 C607.59,107.81 609.44,111.94 610.47,114.58 C611.49,117.23 612.15,119.62 613.17,122.33 C614.20,125.04 615.59,128.47 616.62,130.82 C617.64,133.18 618.87,135.51 619.32,136.45  M617.11,106.84 C617.68,108.13 619.61,111.83 620.55,114.58 C621.50,117.33 621.99,120.41 622.77,123.33 C623.55,126.24 624.82,130.62 625.23,132.07  M599.39,109.83 C600.15,111.08 602.71,114.67 603.94,117.33 C605.17,120.00 605.95,123.20 606.77,125.83 C607.59,128.45 608.52,131.87 608.87,133.07  M642.70,118.33 C641.27,117.75 637.00,115.71 634.09,114.83 C631.18,113.96 626.71,113.37 625.23,113.08  M649.47,127.08 C647.93,126.58 643.21,124.87 640.24,124.08 C637.27,123.29 634.05,122.54 631.63,122.33 C629.21,122.12 626.71,122.74 625.72,122.83  M603.08,118.58 C601.69,118.95 597.34,119.66 594.72,120.83 C592.09,122.00 589.49,124.08 587.33,125.58 C585.18,127.08 582.72,129.12 581.80,129.83  M624.00,154.81 C622.19,154.36 617.03,153.11 613.17,152.07 C609.32,151.02 604.66,149.77 600.87,148.57 C597.07,147.36 592.15,145.44 590.41,144.82  M648.85,134.57 C647.62,134.41 643.73,133.37 641.47,133.57 C639.21,133.78 636.34,135.45 635.32,135.82  M589.80,114.58 C589.39,115.41 588.05,117.91 587.33,119.58 C586.62,121.25 585.80,123.74 585.49,124.58  M637.78,129.58 C636.96,129.99 634.19,130.62 632.86,132.07 C631.52,133.53 630.29,137.28 629.78,138.32  " fill="none" stroke="#2f3540" stroke-opacity="0.22" stroke-width="0.7" stroke-linecap="round" stroke-linejoin="round"/><rect x="575.7" y="102.2" width="79.8" height="59.1" filter="url(#sulr)"/><path d="M578.72,138.46 C578.52,136.60 578.93,133.71 579.96,131.02 C581.00,128.33 582.86,125.23 584.93,122.33 C586.99,119.44 589.89,116.03 592.37,113.65 C594.85,111.27 597.54,109.47 599.81,108.06 C602.09,106.66 603.33,105.42 606.02,105.21 C608.71,105.00 612.43,106.24 615.94,106.82 C619.46,107.40 623.59,107.55 627.11,108.68 C630.62,109.82 633.93,111.58 637.03,113.65 C640.14,115.72 643.44,118.40 645.72,121.09 C647.99,123.78 649.55,127.09 650.68,129.78 C651.82,132.46 652.54,134.74 652.54,137.22 C652.54,139.70 652.03,142.91 650.68,144.67 C649.34,146.42 646.75,147.04 644.48,147.77 C642.20,148.49 639.10,148.70 637.03,149.01 C634.97,149.32 633.11,148.70 632.07,149.63 C631.04,150.56 632.07,153.14 630.83,154.59 C629.59,156.04 626.90,157.90 624.63,158.31 C622.35,158.73 620.08,158.11 617.18,157.07 C614.29,156.04 610.57,153.56 607.26,152.11 C603.95,150.66 600.64,149.42 597.33,148.39 C594.02,147.35 590.10,146.94 587.41,145.91 C584.72,144.87 582.65,143.42 581.20,142.18 C579.76,140.94 578.93,140.32 578.72,138.46 Z" fill="url(#shade)"/></g><path d="M578.72,138.46 C578.52,136.60 578.93,133.71 579.96,131.02 C581.00,128.33 582.86,125.23 584.93,122.33 C586.99,119.44 589.89,116.03 592.37,113.65 C594.85,111.27 597.54,109.47 599.81,108.06 C602.09,106.66 603.33,105.42 606.02,105.21 C608.71,105.00 612.43,106.24 615.94,106.82 C619.46,107.40 623.59,107.55 627.11,108.68 C630.62,109.82 633.93,111.58 637.03,113.65 C640.14,115.72 643.44,118.40 645.72,121.09 C647.99,123.78 649.55,127.09 650.68,129.78 C651.82,132.46 652.54,134.74 652.54,137.22 C652.54,139.70 652.03,142.91 650.68,144.67 C649.34,146.42 646.75,147.04 644.48,147.77 C642.20,148.49 639.10,148.70 637.03,149.01 C634.97,149.32 633.11,148.70 632.07,149.63 C631.04,150.56 632.07,153.14 630.83,154.59 C629.59,156.04 626.90,157.90 624.63,158.31 C622.35,158.73 620.08,158.11 617.18,157.07 C614.29,156.04 610.57,153.56 607.26,152.11 C603.95,150.66 600.64,149.42 597.33,148.39 C594.02,147.35 590.10,146.94 587.41,145.91 C584.72,144.87 582.65,143.42 581.20,142.18 C579.76,140.94 578.93,140.32 578.72,138.46 Z" fill="none" stroke="#6a6f75" stroke-opacity="0.35" stroke-width="0.7"/></g>
<text x="-0.50" y="6.50" font-size="11" text-anchor="start" font-weight="bold" fill="#000" >a</text>
<text x="472.00" y="6.10" font-size="11" text-anchor="start" font-weight="bold" fill="#000" >e</text>
<text x="242.20" y="32.80" font-size="11" text-anchor="start" font-weight="bold" fill="#000" >c</text>
<text x="242.50" y="211.20" font-size="11" text-anchor="start" font-weight="bold" fill="#000" >g</text>
<text x="0.00" y="232.10" font-size="11" text-anchor="start" font-weight="bold" fill="#000" >b</text>
<text x="476.30" y="231.00" font-size="11" text-anchor="start" font-weight="bold" fill="#000" >f</text>
<text x="0.00" y="584.10" font-size="11" text-anchor="start" font-weight="bold" fill="#000" >d</text>
<text x="346.80" y="584.30" font-size="11" text-anchor="start" font-weight="bold" fill="#000" >h</text>
<text x="100.40" y="18.50" font-size="10" text-anchor="middle" font-weight="normal" fill="#000"  stroke="#000" stroke-width="0.13">Mode 1</text>
<text x="100.40" y="30.30" font-size="10" text-anchor="middle" font-weight="normal" fill="#000"  stroke="#000" stroke-width="0.13">average brain loadings</text>
<text x="579.20" y="18.50" font-size="10" text-anchor="middle" font-weight="normal" fill="#000"  stroke="#000" stroke-width="0.13">Mode 2</text>
<text x="579.20" y="30.30" font-size="10" text-anchor="middle" font-weight="normal" fill="#000"  stroke="#000" stroke-width="0.13">average brain loadings</text>
<rect x="76.2" y="93.5" width="33.9" height="5.5" fill="url(#gblue)"/>
<text x="70.50" y="99.60" font-size="10" text-anchor="middle" font-weight="normal" fill="#000"  stroke="#000" stroke-width="0.13">0</text>
<text x="112.60" y="99.60" font-size="10" text-anchor="start" font-weight="normal" fill="#000"  stroke="#000" stroke-width="0.13">0.8</text>
<rect x="559" y="94.8" width="34" height="5.5" fill="url(#gred)"/>
<text x="552.20" y="100.60" font-size="10" text-anchor="middle" font-weight="normal" fill="#000"  stroke="#000" stroke-width="0.13">0</text>
<text x="597.10" y="100.60" font-size="10" text-anchor="start" font-weight="normal" fill="#000"  stroke="#000" stroke-width="0.13">0.4</text>
<line x1="102.9" y1="164.5" x2="102.9" y2="213.5" stroke="#5658e0" stroke-width="1.35" marker-end="url(#mb)"/>
<line x1="148.6" y1="182.8" x2="219" y2="143.7" stroke="#5658e0" stroke-width="1.35" marker-end="url(#mb)"/>
<line x1="590.2" y1="166" x2="590.2" y2="214.8" stroke="#e85a5c" stroke-width="1.35" marker-end="url(#mr)"/>
<line x1="508.5" y1="193.2" x2="431.1" y2="231.2" stroke="#e85a5c" stroke-width="1.35" marker-end="url(#mr)"/>
<line x1="256.7" y1="440.8" x2="306.1" y2="440.8" stroke="#5658e0" stroke-width="1.35" marker-end="url(#mb)"/>
<line x1="448.3" y1="439.9" x2="399" y2="439.9" stroke="#e85a5c" stroke-width="1.35" marker-end="url(#mr)"/>
<line x1="320.5" y1="456.2" x2="291.8" y2="563.2" stroke="#5658e0" stroke-width="1.35" marker-end="url(#mb)"/>
<line x1="385.8" y1="456.2" x2="414.5" y2="563.2" stroke="#e85a5c" stroke-width="1.35" marker-end="url(#mr)"/>
<text x="96.50" y="190.80" font-size="10" text-anchor="middle" font-weight="normal" fill="#000" transform="rotate(-90 96.5 190.8)" stroke="#000" stroke-width="0.13">PLS</text>
<text x="583.80" y="190.70" font-size="10" text-anchor="middle" font-weight="normal" fill="#000" transform="rotate(-90 583.8 190.7)" stroke="#000" stroke-width="0.13">PLS</text>
<text x="351.60" y="438.30" font-size="10" text-anchor="middle" font-weight="normal" fill="#000"  stroke="#000" stroke-width="0.13">Enrichment</text>
<text x="353.00" y="450.60" font-size="10" text-anchor="middle" font-weight="normal" fill="#000"  stroke="#000" stroke-width="0.13">Analysis</text>
<path d="M316.00,105.40 L319.56,104.15 L323.11,102.89 L326.67,101.62 L330.23,100.34 L333.78,99.05 L337.34,97.74 L340.90,96.41 L344.45,95.04 L348.01,93.63 L351.57,92.16 L355.12,90.59 L358.68,88.92 L362.24,87.10 L365.79,85.15 L369.35,83.09 L372.91,80.92 L376.46,78.68 L380.02,76.38 L383.58,74.03 L387.13,71.66 L390.69,69.26 L394.25,66.84 L397.80,64.41 L401.36,61.97 L404.92,59.52 L408.47,57.07 L412.03,54.61 L415.59,52.14 L419.14,49.67 L422.70,47.20 L422.70,69.20 L419.14,70.48 L415.59,71.77 L412.03,73.05 L408.47,74.35 L404.92,75.64 L401.36,76.95 L397.80,78.26 L394.25,79.59 L390.69,80.92 L387.13,82.28 L383.58,83.65 L380.02,85.06 L376.46,86.52 L372.91,88.03 L369.35,89.61 L365.79,91.30 L362.24,93.10 L358.68,95.04 L355.12,97.12 L351.57,99.31 L348.01,101.59 L344.45,103.93 L340.90,106.32 L337.34,108.74 L333.78,111.18 L330.23,113.64 L326.67,116.12 L323.11,118.60 L319.56,121.10 L316.00,123.60Z" fill="#d9d9f7" fill-opacity="0.85"/>
<line x1="302" y1="41.2" x2="302" y2="138.8" stroke="#b3b3b3" stroke-width="0.9"/>
<line x1="302" y1="138.8" x2="424.7" y2="138.8" stroke="#b3b3b3" stroke-width="0.9"/>
<line x1="300.5" y1="41.4" x2="302" y2="41.4" stroke="#b3b3b3" stroke-width="0.9"/>
<line x1="300.5" y1="89.8" x2="302" y2="89.8" stroke="#b3b3b3" stroke-width="0.9"/>
<line x1="300.5" y1="138.3" x2="302" y2="138.3" stroke="#b3b3b3" stroke-width="0.9"/>
<line x1="302.3" y1="138.8" x2="302.3" y2="140.3" stroke="#b3b3b3" stroke-width="0.9"/>
<line x1="363.4" y1="138.8" x2="363.4" y2="140.3" stroke="#b3b3b3" stroke-width="0.9"/>
<line x1="424.5" y1="138.8" x2="424.5" y2="140.3" stroke="#b3b3b3" stroke-width="0.9"/>
<circle cx="362.48" cy="48.76" r="2.2" fill="#5858ee" stroke="#fff" stroke-width="0.3"/>
<circle cx="365.22" cy="54.96" r="2.2" fill="#5858ee" stroke="#fff" stroke-width="0.3"/>
<circle cx="349.71" cy="59.16" r="2.2" fill="#5858ee" stroke="#fff" stroke-width="0.3"/>
<circle cx="371.06" cy="58.80" r="2.2" fill="#5858ee" stroke="#fff" stroke-width="0.3"/>
<circle cx="371.06" cy="61.53" r="2.2" fill="#5858ee" stroke="#fff" stroke-width="0.3"/>
<circle cx="392.23" cy="63.18" r="2.2" fill="#5858ee" stroke="#fff" stroke-width="0.3"/>
<circle cx="422.70" cy="56.79" r="2.2" fill="#5858ee" stroke="#fff" stroke-width="0.3"/>
<circle cx="398.98" cy="68.83" r="2.2" fill="#5858ee" stroke="#fff" stroke-width="0.3"/>
<circle cx="366.50" cy="65.91" r="2.2" fill="#5858ee" stroke="#fff" stroke-width="0.3"/>
<circle cx="371.61" cy="67.74" r="2.2" fill="#5858ee" stroke="#fff" stroke-width="0.3"/>
<circle cx="375.26" cy="69.20" r="2.2" fill="#5858ee" stroke="#fff" stroke-width="0.3"/>
<circle cx="377.99" cy="70.11" r="2.2" fill="#5858ee" stroke="#fff" stroke-width="0.3"/>
<circle cx="361.02" cy="71.57" r="2.2" fill="#5858ee" stroke="#fff" stroke-width="0.3"/>
<circle cx="365.22" cy="73.76" r="2.2" fill="#5858ee" stroke="#fff" stroke-width="0.3"/>
<circle cx="370.33" cy="73.39" r="2.2" fill="#5858ee" stroke="#fff" stroke-width="0.3"/>
<circle cx="373.43" cy="73.76" r="2.2" fill="#5858ee" stroke="#fff" stroke-width="0.3"/>
<circle cx="384.56" cy="72.30" r="2.2" fill="#5858ee" stroke="#fff" stroke-width="0.3"/>
<circle cx="350.62" cy="75.95" r="2.2" fill="#5858ee" stroke="#fff" stroke-width="0.3"/>
<circle cx="350.26" cy="78.69" r="2.2" fill="#5858ee" stroke="#fff" stroke-width="0.3"/>
<circle cx="356.09" cy="78.69" r="2.2" fill="#5858ee" stroke="#fff" stroke-width="0.3"/>
<circle cx="368.87" cy="76.50" r="2.2" fill="#5858ee" stroke="#fff" stroke-width="0.3"/>
<circle cx="370.69" cy="78.69" r="2.2" fill="#5858ee" stroke="#fff" stroke-width="0.3"/>
<circle cx="376.53" cy="77.96" r="2.2" fill="#5858ee" stroke="#fff" stroke-width="0.3"/>
<circle cx="383.83" cy="76.86" r="2.2" fill="#5858ee" stroke="#fff" stroke-width="0.3"/>
<circle cx="388.94" cy="76.13" r="2.2" fill="#5858ee" stroke="#fff" stroke-width="0.3"/>
<circle cx="393.50" cy="74.67" r="2.2" fill="#5858ee" stroke="#fff" stroke-width="0.3"/>
<circle cx="359.74" cy="82.88" r="2.2" fill="#5858ee" stroke="#fff" stroke-width="0.3"/>
<circle cx="357.92" cy="84.71" r="2.2" fill="#5858ee" stroke="#fff" stroke-width="0.3"/>
<circle cx="363.39" cy="84.71" r="2.2" fill="#5858ee" stroke="#fff" stroke-width="0.3"/>
<circle cx="367.04" cy="85.62" r="2.2" fill="#5858ee" stroke="#fff" stroke-width="0.3"/>
<circle cx="370.69" cy="84.71" r="2.2" fill="#5858ee" stroke="#fff" stroke-width="0.3"/>
<circle cx="375.26" cy="82.88" r="2.2" fill="#5858ee" stroke="#fff" stroke-width="0.3"/>
<circle cx="378.91" cy="83.80" r="2.2" fill="#5858ee" stroke="#fff" stroke-width="0.3"/>
<circle cx="356.09" cy="87.81" r="2.2" fill="#5858ee" stroke="#fff" stroke-width="0.3"/>
<circle cx="362.48" cy="87.81" r="2.2" fill="#5858ee" stroke="#fff" stroke-width="0.3"/>
<circle cx="365.22" cy="88.36" r="2.2" fill="#5858ee" stroke="#fff" stroke-width="0.3"/>
<circle cx="368.87" cy="87.81" r="2.2" fill="#5858ee" stroke="#fff" stroke-width="0.3"/>
<circle cx="373.98" cy="88.36" r="2.2" fill="#5858ee" stroke="#fff" stroke-width="0.3"/>
<circle cx="336.39" cy="88.91" r="2.2" fill="#5858ee" stroke="#fff" stroke-width="0.3"/>
<circle cx="337.85" cy="90.18" r="2.2" fill="#5858ee" stroke="#fff" stroke-width="0.3"/>
<circle cx="351.53" cy="92.92" r="2.2" fill="#5858ee" stroke="#fff" stroke-width="0.3"/>
<circle cx="354.27" cy="92.92" r="2.2" fill="#5858ee" stroke="#fff" stroke-width="0.3"/>
<circle cx="357.92" cy="92.01" r="2.2" fill="#5858ee" stroke="#fff" stroke-width="0.3"/>
<circle cx="359.74" cy="94.74" r="2.2" fill="#5858ee" stroke="#fff" stroke-width="0.3"/>
<circle cx="363.39" cy="95.66" r="2.2" fill="#5858ee" stroke="#fff" stroke-width="0.3"/>
<circle cx="371.61" cy="93.28" r="2.2" fill="#5858ee" stroke="#fff" stroke-width="0.3"/>
<circle cx="389.49" cy="90.73" r="2.2" fill="#5858ee" stroke="#fff" stroke-width="0.3"/>
<circle cx="388.03" cy="94.74" r="2.2" fill="#5858ee" stroke="#fff" stroke-width="0.3"/>
<circle cx="352.45" cy="96.57" r="2.2" fill="#5858ee" stroke="#fff" stroke-width="0.3"/>
<circle cx="355.18" cy="98.03" r="2.2" fill="#5858ee" stroke="#fff" stroke-width="0.3"/>
<circle cx="357.92" cy="97.48" r="2.2" fill="#5858ee" stroke="#fff" stroke-width="0.3"/>
<circle cx="361.57" cy="98.39" r="2.2" fill="#5858ee" stroke="#fff" stroke-width="0.3"/>
<circle cx="365.22" cy="99.31" r="2.2" fill="#5858ee" stroke="#fff" stroke-width="0.3"/>
<circle cx="369.78" cy="96.57" r="2.2" fill="#5858ee" stroke="#fff" stroke-width="0.3"/>
<circle cx="374.34" cy="98.39" r="2.2" fill="#5858ee" stroke="#fff" stroke-width="0.3"/>
<circle cx="376.53" cy="98.03" r="2.2" fill="#5858ee" stroke="#fff" stroke-width="0.3"/>
<circle cx="382.55" cy="99.31" r="2.2" fill="#5858ee" stroke="#fff" stroke-width="0.3"/>
<circle cx="337.85" cy="102.96" r="2.2" fill="#5858ee" stroke="#fff" stroke-width="0.3"/>
<circle cx="340.58" cy="102.59" r="2.2" fill="#5858ee" stroke="#fff" stroke-width="0.3"/>
<circle cx="343.32" cy="102.41" r="2.2" fill="#5858ee" stroke="#fff" stroke-width="0.3"/>
<circle cx="346.61" cy="102.96" r="2.2" fill="#5858ee" stroke="#fff" stroke-width="0.3"/>
<circle cx="352.45" cy="102.96" r="2.2" fill="#5858ee" stroke="#fff" stroke-width="0.3"/>
<circle cx="355.18" cy="102.04" r="2.2" fill="#5858ee" stroke="#fff" stroke-width="0.3"/>
<circle cx="358.83" cy="102.96" r="2.2" fill="#5858ee" stroke="#fff" stroke-width="0.3"/>
<circle cx="363.39" cy="102.96" r="2.2" fill="#5858ee" stroke="#fff" stroke-width="0.3"/>
<circle cx="366.68" cy="101.50" r="2.2" fill="#5858ee" stroke="#fff" stroke-width="0.3"/>
<circle cx="365.22" cy="105.69" r="2.2" fill="#5858ee" stroke="#fff" stroke-width="0.3"/>
<circle cx="361.57" cy="104.78" r="2.2" fill="#5858ee" stroke="#fff" stroke-width="0.3"/>
<circle cx="384.38" cy="103.50" r="2.2" fill="#5858ee" stroke="#fff" stroke-width="0.3"/>
<circle cx="335.66" cy="109.89" r="2.2" fill="#5858ee" stroke="#fff" stroke-width="0.3"/>
<circle cx="337.48" cy="108.98" r="2.2" fill="#5858ee" stroke="#fff" stroke-width="0.3"/>
<circle cx="341.13" cy="111.72" r="2.2" fill="#5858ee" stroke="#fff" stroke-width="0.3"/>
<circle cx="357.01" cy="109.89" r="2.2" fill="#5858ee" stroke="#fff" stroke-width="0.3"/>
<circle cx="361.93" cy="109.89" r="2.2" fill="#5858ee" stroke="#fff" stroke-width="0.3"/>
<circle cx="370.69" cy="108.98" r="2.2" fill="#5858ee" stroke="#fff" stroke-width="0.3"/>
<circle cx="372.88" cy="113.36" r="2.2" fill="#5858ee" stroke="#fff" stroke-width="0.3"/>
<circle cx="351.53" cy="113.36" r="2.2" fill="#5858ee" stroke="#fff" stroke-width="0.3"/>
<circle cx="359.38" cy="116.64" r="2.2" fill="#5858ee" stroke="#fff" stroke-width="0.3"/>
<circle cx="326.53" cy="114.45" r="2.2" fill="#5858ee" stroke="#fff" stroke-width="0.3"/>
<circle cx="315.95" cy="117.01" r="2.2" fill="#5858ee" stroke="#fff" stroke-width="0.3"/>
<circle cx="342.41" cy="121.20" r="2.2" fill="#5858ee" stroke="#fff" stroke-width="0.3"/>
<circle cx="352.99" cy="125.77" r="2.2" fill="#5858ee" stroke="#fff" stroke-width="0.3"/>
<circle cx="358.83" cy="105.69" r="2.2" fill="#5858ee" stroke="#fff" stroke-width="0.3"/>
<circle cx="354.27" cy="100.22" r="2.2" fill="#5858ee" stroke="#fff" stroke-width="0.3"/>
<circle cx="350.62" cy="100.22" r="2.2" fill="#5858ee" stroke="#fff" stroke-width="0.3"/>
<line x1="316" y1="114.5" x2="422.7" y2="58.2" stroke="#5858ee" stroke-width="1.1"/>
<text x="295.50" y="45.30" font-size="8.5" text-anchor="end" font-weight="normal" fill="#000"  stroke="#000" stroke-width="0.13">0.25</text>
<text x="295.50" y="93.30" font-size="8.5" text-anchor="end" font-weight="normal" fill="#000"  stroke="#000" stroke-width="0.13">0</text>
<text x="295.50" y="141.50" font-size="8.5" text-anchor="end" font-weight="normal" fill="#000"  stroke="#000" stroke-width="0.13">-0.25</text>
<text x="303.50" y="150.30" font-size="8.5" text-anchor="middle" font-weight="normal" fill="#000"  stroke="#000" stroke-width="0.13">0</text>
<text x="363.60" y="150.30" font-size="8.5" text-anchor="middle" font-weight="normal" fill="#000"  stroke="#000" stroke-width="0.13">0.4</text>
<text x="423.50" y="150.30" font-size="8.5" text-anchor="middle" font-weight="normal" fill="#000"  stroke="#000" stroke-width="0.13">0.8</text>
<text x="366.50" y="162.50" font-size="10" text-anchor="middle" font-weight="normal" fill="#000"  stroke="#000" stroke-width="0.13">Average brain loadings</text>
<text x="277.80" y="89.30" font-size="10" text-anchor="middle" font-weight="normal" fill="#000" transform="rotate(-90 277.8 89.3)" stroke="#000" stroke-width="0.13">Gene PLS1 scores</text>
<text x="422.3" y="120.2" font-size="10" text-anchor="end" stroke="#000" stroke-width="0.13"><tspan font-style="italic">r</tspan> = 0.48</text>
<text x="434.3" y="132.4" font-size="10" text-anchor="end" stroke="#000" stroke-width="0.13"><tspan font-style="italic">P</tspan><tspan font-size="6.6" dy="2.4">perm</tspan><tspan dy="-2.4"> = 0.005</tspan></text>
<path d="M306.00,294.10 L309.34,292.97 L312.67,291.84 L316.01,290.70 L319.35,289.56 L322.68,288.41 L326.02,287.24 L329.36,286.07 L332.69,284.88 L336.03,283.68 L339.37,282.44 L342.70,281.18 L346.04,279.87 L349.38,278.51 L352.71,277.09 L356.05,275.60 L359.39,274.04 L362.72,272.40 L366.06,270.71 L369.40,268.96 L372.73,267.17 L376.07,265.35 L379.41,263.50 L382.74,261.64 L386.08,259.76 L389.42,257.87 L392.75,255.97 L396.09,254.06 L399.43,252.14 L402.76,250.22 L406.10,248.30 L406.10,262.10 L402.76,263.23 L399.43,264.36 L396.09,265.50 L392.75,266.65 L389.42,267.80 L386.08,268.96 L382.74,270.13 L379.41,271.32 L376.07,272.53 L372.73,273.76 L369.40,275.03 L366.06,276.33 L362.72,277.69 L359.39,279.11 L356.05,280.60 L352.71,282.16 L349.38,283.79 L346.04,285.49 L342.70,287.24 L339.37,289.02 L336.03,290.84 L332.69,292.69 L329.36,294.56 L326.02,296.44 L322.68,298.33 L319.35,300.23 L316.01,302.14 L312.67,304.05 L309.34,305.98 L306.00,307.90Z" fill="#f8d3d3" fill-opacity="0.9"/>
<line x1="297.7" y1="229.5" x2="297.7" y2="325.5" stroke="#b3b3b3" stroke-width="0.9"/>
<line x1="297.7" y1="325.5" x2="420.7" y2="325.5" stroke="#b3b3b3" stroke-width="0.9"/>
<line x1="296.2" y1="229.7" x2="297.7" y2="229.7" stroke="#b3b3b3" stroke-width="0.9"/>
<line x1="296.2" y1="277.3" x2="297.7" y2="277.3" stroke="#b3b3b3" stroke-width="0.9"/>
<line x1="296.2" y1="325.5" x2="297.7" y2="325.5" stroke="#b3b3b3" stroke-width="0.9"/>
<line x1="297.9" y1="325.5" x2="297.9" y2="327" stroke="#b3b3b3" stroke-width="0.9"/>
<line x1="359.6" y1="325.5" x2="359.6" y2="327" stroke="#b3b3b3" stroke-width="0.9"/>
<line x1="420.5" y1="325.5" x2="420.5" y2="327" stroke="#b3b3b3" stroke-width="0.9"/>
<circle cx="394.16" cy="237.81" r="2.2" fill="#e85a60" stroke="#fff" stroke-width="0.3"/>
<circle cx="406.11" cy="240.37" r="2.2" fill="#e85a60" stroke="#fff" stroke-width="0.3"/>
<circle cx="378.27" cy="242.59" r="2.2" fill="#e85a60" stroke="#fff" stroke-width="0.3"/>
<circle cx="379.98" cy="243.27" r="2.2" fill="#e85a60" stroke="#fff" stroke-width="0.3"/>
<circle cx="385.62" cy="245.50" r="2.2" fill="#e85a60" stroke="#fff" stroke-width="0.3"/>
<circle cx="393.30" cy="246.35" r="2.2" fill="#e85a60" stroke="#fff" stroke-width="0.3"/>
<circle cx="360.85" cy="254.38" r="2.2" fill="#e85a60" stroke="#fff" stroke-width="0.3"/>
<circle cx="368.37" cy="255.74" r="2.2" fill="#e85a60" stroke="#fff" stroke-width="0.3"/>
<circle cx="378.61" cy="255.40" r="2.2" fill="#e85a60" stroke="#fff" stroke-width="0.3"/>
<circle cx="381.18" cy="256.26" r="2.2" fill="#e85a60" stroke="#fff" stroke-width="0.3"/>
<circle cx="385.45" cy="256.26" r="2.2" fill="#e85a60" stroke="#fff" stroke-width="0.3"/>
<circle cx="357.78" cy="259.50" r="2.2" fill="#e85a60" stroke="#fff" stroke-width="0.3"/>
<circle cx="373.66" cy="260.35" r="2.2" fill="#e85a60" stroke="#fff" stroke-width="0.3"/>
<circle cx="364.61" cy="262.23" r="2.2" fill="#e85a60" stroke="#fff" stroke-width="0.3"/>
<circle cx="367.51" cy="262.57" r="2.2" fill="#e85a60" stroke="#fff" stroke-width="0.3"/>
<circle cx="371.44" cy="265.14" r="2.2" fill="#e85a60" stroke="#fff" stroke-width="0.3"/>
<circle cx="353.51" cy="264.28" r="2.2" fill="#e85a60" stroke="#fff" stroke-width="0.3"/>
<circle cx="356.07" cy="264.62" r="2.2" fill="#e85a60" stroke="#fff" stroke-width="0.3"/>
<circle cx="358.12" cy="265.65" r="2.2" fill="#e85a60" stroke="#fff" stroke-width="0.3"/>
<circle cx="341.72" cy="267.19" r="2.2" fill="#e85a60" stroke="#fff" stroke-width="0.3"/>
<circle cx="383.40" cy="264.62" r="2.2" fill="#e85a60" stroke="#fff" stroke-width="0.3"/>
<circle cx="386.81" cy="265.99" r="2.2" fill="#e85a60" stroke="#fff" stroke-width="0.3"/>
<circle cx="391.08" cy="262.92" r="2.2" fill="#e85a60" stroke="#fff" stroke-width="0.3"/>
<circle cx="393.30" cy="268.72" r="2.2" fill="#e85a60" stroke="#fff" stroke-width="0.3"/>
<circle cx="391.94" cy="271.97" r="2.2" fill="#e85a60" stroke="#fff" stroke-width="0.3"/>
<circle cx="391.08" cy="274.53" r="2.2" fill="#e85a60" stroke="#fff" stroke-width="0.3"/>
<circle cx="348.90" cy="270.77" r="2.2" fill="#e85a60" stroke="#fff" stroke-width="0.3"/>
<circle cx="346.68" cy="271.11" r="2.2" fill="#e85a60" stroke="#fff" stroke-width="0.3"/>
<circle cx="321.91" cy="275.38" r="2.2" fill="#e85a60" stroke="#fff" stroke-width="0.3"/>
<circle cx="333.01" cy="274.02" r="2.2" fill="#e85a60" stroke="#fff" stroke-width="0.3"/>
<circle cx="337.62" cy="276.24" r="2.2" fill="#e85a60" stroke="#fff" stroke-width="0.3"/>
<circle cx="339.84" cy="277.09" r="2.2" fill="#e85a60" stroke="#fff" stroke-width="0.3"/>
<circle cx="342.75" cy="275.38" r="2.2" fill="#e85a60" stroke="#fff" stroke-width="0.3"/>
<circle cx="344.11" cy="277.95" r="2.2" fill="#e85a60" stroke="#fff" stroke-width="0.3"/>
<circle cx="347.53" cy="276.24" r="2.2" fill="#e85a60" stroke="#fff" stroke-width="0.3"/>
<circle cx="349.24" cy="279.65" r="2.2" fill="#e85a60" stroke="#fff" stroke-width="0.3"/>
<circle cx="350.95" cy="281.36" r="2.2" fill="#e85a60" stroke="#fff" stroke-width="0.3"/>
<circle cx="352.65" cy="283.07" r="2.2" fill="#e85a60" stroke="#fff" stroke-width="0.3"/>
<circle cx="345.82" cy="283.07" r="2.2" fill="#e85a60" stroke="#fff" stroke-width="0.3"/>
<circle cx="342.75" cy="283.92" r="2.2" fill="#e85a60" stroke="#fff" stroke-width="0.3"/>
<circle cx="357.78" cy="277.09" r="2.2" fill="#e85a60" stroke="#fff" stroke-width="0.3"/>
<circle cx="359.49" cy="275.38" r="2.2" fill="#e85a60" stroke="#fff" stroke-width="0.3"/>
<circle cx="362.05" cy="274.53" r="2.2" fill="#e85a60" stroke="#fff" stroke-width="0.3"/>
<circle cx="364.61" cy="275.04" r="2.2" fill="#e85a60" stroke="#fff" stroke-width="0.3"/>
<circle cx="366.32" cy="276.24" r="2.2" fill="#e85a60" stroke="#fff" stroke-width="0.3"/>
<circle cx="368.37" cy="271.46" r="2.2" fill="#e85a60" stroke="#fff" stroke-width="0.3"/>
<circle cx="371.10" cy="272.48" r="2.2" fill="#e85a60" stroke="#fff" stroke-width="0.3"/>
<circle cx="375.71" cy="273.68" r="2.2" fill="#e85a60" stroke="#fff" stroke-width="0.3"/>
<circle cx="367.17" cy="279.65" r="2.2" fill="#e85a60" stroke="#fff" stroke-width="0.3"/>
<circle cx="371.78" cy="281.02" r="2.2" fill="#e85a60" stroke="#fff" stroke-width="0.3"/>
<circle cx="384.25" cy="275.38" r="2.2" fill="#e85a60" stroke="#fff" stroke-width="0.3"/>
<circle cx="381.69" cy="278.80" r="2.2" fill="#e85a60" stroke="#fff" stroke-width="0.3"/>
<circle cx="358.63" cy="283.07" r="2.2" fill="#e85a60" stroke="#fff" stroke-width="0.3"/>
<circle cx="327.04" cy="282.22" r="2.2" fill="#e85a60" stroke="#fff" stroke-width="0.3"/>
<circle cx="328.40" cy="283.92" r="2.2" fill="#e85a60" stroke="#fff" stroke-width="0.3"/>
<circle cx="315.59" cy="286.83" r="2.2" fill="#e85a60" stroke="#fff" stroke-width="0.3"/>
<circle cx="352.65" cy="286.49" r="2.2" fill="#e85a60" stroke="#fff" stroke-width="0.3"/>
<circle cx="375.71" cy="285.63" r="2.2" fill="#e85a60" stroke="#fff" stroke-width="0.3"/>
<circle cx="377.76" cy="287.34" r="2.2" fill="#e85a60" stroke="#fff" stroke-width="0.3"/>
<circle cx="342.06" cy="289.39" r="2.2" fill="#e85a60" stroke="#fff" stroke-width="0.3"/>
<circle cx="343.26" cy="291.61" r="2.2" fill="#e85a60" stroke="#fff" stroke-width="0.3"/>
<circle cx="348.04" cy="291.61" r="2.2" fill="#e85a60" stroke="#fff" stroke-width="0.3"/>
<circle cx="347.53" cy="295.37" r="2.2" fill="#e85a60" stroke="#fff" stroke-width="0.3"/>
<circle cx="365.46" cy="291.10" r="2.2" fill="#e85a60" stroke="#fff" stroke-width="0.3"/>
<circle cx="309.96" cy="294.68" r="2.2" fill="#e85a60" stroke="#fff" stroke-width="0.3"/>
<circle cx="334.21" cy="297.59" r="2.2" fill="#e85a60" stroke="#fff" stroke-width="0.3"/>
<circle cx="323.96" cy="301.00" r="2.2" fill="#e85a60" stroke="#fff" stroke-width="0.3"/>
<circle cx="355.73" cy="297.59" r="2.2" fill="#e85a60" stroke="#fff" stroke-width="0.3"/>
<circle cx="356.92" cy="300.15" r="2.2" fill="#e85a60" stroke="#fff" stroke-width="0.3"/>
<circle cx="361.54" cy="298.10" r="2.2" fill="#e85a60" stroke="#fff" stroke-width="0.3"/>
<circle cx="385.96" cy="295.88" r="2.2" fill="#e85a60" stroke="#fff" stroke-width="0.3"/>
<circle cx="306.88" cy="303.57" r="2.2" fill="#e85a60" stroke="#fff" stroke-width="0.3"/>
<circle cx="306.03" cy="307.66" r="2.2" fill="#e85a60" stroke="#fff" stroke-width="0.3"/>
<circle cx="340.70" cy="307.49" r="2.2" fill="#e85a60" stroke="#fff" stroke-width="0.3"/>
<circle cx="347.53" cy="305.27" r="2.2" fill="#e85a60" stroke="#fff" stroke-width="0.3"/>
<circle cx="348.38" cy="309.20" r="2.2" fill="#e85a60" stroke="#fff" stroke-width="0.3"/>
<circle cx="351.80" cy="303.91" r="2.2" fill="#e85a60" stroke="#fff" stroke-width="0.3"/>
<circle cx="336.94" cy="314.67" r="2.2" fill="#e85a60" stroke="#fff" stroke-width="0.3"/>
<circle cx="347.53" cy="314.67" r="2.2" fill="#e85a60" stroke="#fff" stroke-width="0.3"/>
<circle cx="362.90" cy="269.06" r="2.2" fill="#e85a60" stroke="#fff" stroke-width="0.3"/>
<circle cx="360.34" cy="269.75" r="2.2" fill="#e85a60" stroke="#fff" stroke-width="0.3"/>
<circle cx="354.36" cy="278.80" r="2.2" fill="#e85a60" stroke="#fff" stroke-width="0.3"/>
<circle cx="356.07" cy="277.95" r="2.2" fill="#e85a60" stroke="#fff" stroke-width="0.3"/>
<circle cx="361.19" cy="278.80" r="2.2" fill="#e85a60" stroke="#fff" stroke-width="0.3"/>
<circle cx="363.76" cy="277.09" r="2.2" fill="#e85a60" stroke="#fff" stroke-width="0.3"/>
<line x1="306" y1="301" x2="406.1" y2="255.2" stroke="#e85a60" stroke-width="1.1"/>
<text x="291.20" y="233.40" font-size="8.5" text-anchor="end" font-weight="normal" fill="#000"  stroke="#000" stroke-width="0.13">0.25</text>
<text x="291.20" y="280.70" font-size="8.5" text-anchor="end" font-weight="normal" fill="#000"  stroke="#000" stroke-width="0.13">0</text>
<text x="291.20" y="329.50" font-size="8.5" text-anchor="end" font-weight="normal" fill="#000"  stroke="#000" stroke-width="0.13">-0.25</text>
<text x="298.70" y="338.20" font-size="8.5" text-anchor="middle" font-weight="normal" fill="#000"  stroke="#000" stroke-width="0.13">0</text>
<text x="359.60" y="338.20" font-size="8.5" text-anchor="middle" font-weight="normal" fill="#000"  stroke="#000" stroke-width="0.13">0.2</text>
<text x="418.50" y="338.20" font-size="8.5" text-anchor="middle" font-weight="normal" fill="#000"  stroke="#000" stroke-width="0.13">0.4</text>
<text x="361.70" y="350.00" font-size="10" text-anchor="middle" font-weight="normal" fill="#000"  stroke="#000" stroke-width="0.13">Average brain loadings</text>
<text x="272.60" y="279.20" font-size="10" text-anchor="middle" font-weight="normal" fill="#000" transform="rotate(-90 272.6 279.2)" stroke="#000" stroke-width="0.13">Gene PLS1 score</text>
<text x="417.3" y="307.6" font-size="10" text-anchor="end" stroke="#000" stroke-width="0.13"><tspan font-style="italic">r</tspan> = 0.59</text>
<text x="428.7" y="320.2" font-size="10" text-anchor="end" stroke="#000" stroke-width="0.13"><tspan font-style="italic">P</tspan><tspan font-size="6.6" dy="2.4">perm</tspan><tspan dy="-2.4"> &lt; 0.001</tspan></text>
<rect x="22.4" y="236.15" width="177.5" height="1.3" fill="#111"/>
<rect x="22.4" y="260.95" width="177.5" height="1.3" fill="#111"/>
<rect x="22.4" y="563.15" width="177.5" height="1.3" fill="#111"/>
<text transform="translate(79.60 253.80) scale(1 1.080)" font-size="11.6" text-anchor="middle" font-weight="normal" fill="#000"  stroke="#000" stroke-width="0.13">Gene</text>
<text transform="translate(168.00 253.80) scale(1 1.080)" font-size="11.6" text-anchor="middle" font-weight="normal" fill="#000"  stroke="#000" stroke-width="0.13">Weight</text>
<text transform="translate(79.60 278.60) scale(1 1.080)" font-size="11.6" text-anchor="middle" font-weight="bold" fill="#ed7d31" >GAP43</text>
<text transform="translate(168.00 278.60) scale(1 1.080)" font-size="11.6" text-anchor="middle" font-weight="normal" fill="#000"  stroke="#000" stroke-width="0.13">9.22</text>
<text transform="translate(79.60 303.40) scale(1 1.080)" font-size="11.6" text-anchor="middle" font-weight="bold" fill="#ed7d31" >FREM3</text>
<text transform="translate(168.00 303.40) scale(1 1.080)" font-size="11.6" text-anchor="middle" font-weight="normal" fill="#000"  stroke="#000" stroke-width="0.13">8.70</text>
<text transform="translate(79.60 328.20) scale(1 1.080)" font-size="11.6" text-anchor="middle" font-weight="bold" fill="#ed7d31" >DPCD</text>
<text transform="translate(168.00 328.20) scale(1 1.080)" font-size="11.6" text-anchor="middle" font-weight="normal" fill="#000"  stroke="#000" stroke-width="0.13">8.61</text>
<text transform="translate(79.60 353.00) scale(1 1.080)" font-size="11.6" text-anchor="middle" font-weight="bold" fill="#ed7d31" >TUBA1B</text>
<text transform="translate(168.00 353.00) scale(1 1.080)" font-size="11.6" text-anchor="middle" font-weight="normal" fill="#000"  stroke="#000" stroke-width="0.13">8.59</text>
<text transform="translate(79.60 377.80) scale(1 1.080)" font-size="11.6" text-anchor="middle" font-weight="bold" fill="#ed7d31" >ACTC1</text>
<text transform="translate(168.00 377.80) scale(1 1.080)" font-size="11.6" text-anchor="middle" font-weight="normal" fill="#000"  stroke="#000" stroke-width="0.13">8.51</text>
<text transform="translate(79.60 457.10) scale(1 1.080)" font-size="11.6" text-anchor="middle" font-weight="bold" fill="#4472c4" >MIRLET7BHG</text>
<text transform="translate(168.00 457.10) scale(1 1.080)" font-size="11.6" text-anchor="middle" font-weight="normal" fill="#000"  stroke="#000" stroke-width="0.13">-8.28</text>
<text transform="translate(79.60 481.80) scale(1 1.080)" font-size="11.6" text-anchor="middle" font-weight="bold" fill="#4472c4" >METTL3</text>
<text transform="translate(168.00 481.80) scale(1 1.080)" font-size="11.6" text-anchor="middle" font-weight="normal" fill="#000"  stroke="#000" stroke-width="0.13">-8.36</text>
<text transform="translate(79.60 506.50) scale(1 1.080)" font-size="11.6" text-anchor="middle" font-weight="bold" fill="#4472c4" >SIAH2</text>
<text transform="translate(168.00 506.50) scale(1 1.080)" font-size="11.6" text-anchor="middle" font-weight="normal" fill="#000"  stroke="#000" stroke-width="0.13">-8.38</text>
<text transform="translate(79.60 531.20) scale(1 1.080)" font-size="11.6" text-anchor="middle" font-weight="bold" fill="#4472c4" >OTUD7B</text>
<text transform="translate(168.00 531.20) scale(1 1.080)" font-size="11.6" text-anchor="middle" font-weight="normal" fill="#000"  stroke="#000" stroke-width="0.13">-8.54</text>
<text transform="translate(79.60 555.90) scale(1 1.080)" font-size="11.6" text-anchor="middle" font-weight="bold" fill="#4472c4" >ZNF586</text>
<text transform="translate(168.00 555.90) scale(1 1.080)" font-size="11.6" text-anchor="middle" font-weight="normal" fill="#000"  stroke="#000" stroke-width="0.13">-8.55</text>
<rect x="73.45" y="398.15" width="2.1" height="2.1" fill="#ed7d31"/>
<rect x="78.55" y="398.15" width="2.1" height="2.1" fill="#ed7d31"/>
<rect x="83.55" y="398.15" width="2.1" height="2.1" fill="#ed7d31"/>
<rect x="162.95" y="398.15" width="2.1" height="2.1" fill="#ed7d31"/>
<rect x="167.95" y="398.15" width="2.1" height="2.1" fill="#ed7d31"/>
<rect x="172.95" y="398.15" width="2.1" height="2.1" fill="#ed7d31"/>
<rect x="73.45" y="426.95" width="2.1" height="2.1" fill="#4472c4"/>
<rect x="78.55" y="426.95" width="2.1" height="2.1" fill="#4472c4"/>
<rect x="83.55" y="426.95" width="2.1" height="2.1" fill="#4472c4"/>
<rect x="162.95" y="426.95" width="2.1" height="2.1" fill="#4472c4"/>
<rect x="167.95" y="426.95" width="2.1" height="2.1" fill="#4472c4"/>
<rect x="172.95" y="426.95" width="2.1" height="2.1" fill="#4472c4"/>
<rect x="492.6" y="235.65" width="176.5" height="1.3" fill="#111"/>
<rect x="492.6" y="260.45" width="176.5" height="1.3" fill="#111"/>
<rect x="492.6" y="563.55" width="176.5" height="1.3" fill="#111"/>
<text transform="translate(549.40 253.30) scale(1 1.080)" font-size="11.6" text-anchor="middle" font-weight="normal" fill="#000"  stroke="#000" stroke-width="0.13">Gene</text>
<text transform="translate(637.60 253.30) scale(1 1.080)" font-size="11.6" text-anchor="middle" font-weight="normal" fill="#000"  stroke="#000" stroke-width="0.13">Weight</text>
<text transform="translate(549.40 278.10) scale(1 1.080)" font-size="11.6" text-anchor="middle" font-weight="bold" fill="#ed7d31" >TIMM8B</text>
<text transform="translate(637.60 278.10) scale(1 1.080)" font-size="11.6" text-anchor="middle" font-weight="normal" fill="#000"  stroke="#000" stroke-width="0.13">9.46</text>
<text transform="translate(549.40 302.90) scale(1 1.080)" font-size="11.6" text-anchor="middle" font-weight="bold" fill="#ed7d31" >DKFZp779M0652</text>
<text transform="translate(637.60 302.90) scale(1 1.080)" font-size="11.6" text-anchor="middle" font-weight="normal" fill="#000"  stroke="#000" stroke-width="0.13">9.44</text>
<text transform="translate(549.40 327.70) scale(1 1.080)" font-size="11.6" text-anchor="middle" font-weight="bold" fill="#ed7d31" >IFI27L2</text>
<text transform="translate(637.60 327.70) scale(1 1.080)" font-size="11.6" text-anchor="middle" font-weight="normal" fill="#000"  stroke="#000" stroke-width="0.13">9.42</text>
<text transform="translate(549.40 352.50) scale(1 1.080)" font-size="11.6" text-anchor="middle" font-weight="bold" fill="#ed7d31" >SLA</text>
<text transform="translate(637.60 352.50) scale(1 1.080)" font-size="11.6" text-anchor="middle" font-weight="normal" fill="#000"  stroke="#000" stroke-width="0.13">9.34</text>
<text transform="translate(549.40 377.30) scale(1 1.080)" font-size="11.6" text-anchor="middle" font-weight="bold" fill="#ed7d31" >STUM</text>
<text transform="translate(637.60 377.30) scale(1 1.080)" font-size="11.6" text-anchor="middle" font-weight="normal" fill="#000"  stroke="#000" stroke-width="0.13">9.28</text>
<text transform="translate(549.40 457.10) scale(1 1.080)" font-size="11.6" text-anchor="middle" font-weight="bold" fill="#4472c4" >GART</text>
<text transform="translate(637.60 457.10) scale(1 1.080)" font-size="11.6" text-anchor="middle" font-weight="normal" fill="#000"  stroke="#000" stroke-width="0.13">-9.25</text>
<text transform="translate(549.40 481.75) scale(1 1.080)" font-size="11.6" text-anchor="middle" font-weight="bold" fill="#4472c4" >PTPN4</text>
<text transform="translate(637.60 481.75) scale(1 1.080)" font-size="11.6" text-anchor="middle" font-weight="normal" fill="#000"  stroke="#000" stroke-width="0.13">-9.30</text>
<text transform="translate(549.40 506.40) scale(1 1.080)" font-size="11.6" text-anchor="middle" font-weight="bold" fill="#4472c4" >RBM7</text>
<text transform="translate(637.60 506.40) scale(1 1.080)" font-size="11.6" text-anchor="middle" font-weight="normal" fill="#000"  stroke="#000" stroke-width="0.13">-9.31</text>
<text transform="translate(549.40 531.05) scale(1 1.080)" font-size="11.6" text-anchor="middle" font-weight="bold" fill="#4472c4" >LDB2</text>
<text transform="translate(637.60 531.05) scale(1 1.080)" font-size="11.6" text-anchor="middle" font-weight="normal" fill="#000"  stroke="#000" stroke-width="0.13">-9.32</text>
<text transform="translate(549.40 555.70) scale(1 1.080)" font-size="11.6" text-anchor="middle" font-weight="bold" fill="#4472c4" >DCBLD1</text>
<text transform="translate(637.60 555.70) scale(1 1.080)" font-size="11.6" text-anchor="middle" font-weight="normal" fill="#000"  stroke="#000" stroke-width="0.13">-9.35</text>
<rect x="541.45" y="394.85" width="2.1" height="2.1" fill="#ed7d31"/>
<rect x="546.35" y="394.85" width="2.1" height="2.1" fill="#ed7d31"/>
<rect x="551.25" y="394.85" width="2.1" height="2.1" fill="#ed7d31"/>
<rect x="630.95" y="394.85" width="2.1" height="2.1" fill="#ed7d31"/>
<rect x="635.85" y="394.85" width="2.1" height="2.1" fill="#ed7d31"/>
<rect x="640.85" y="394.85" width="2.1" height="2.1" fill="#ed7d31"/>
<rect x="541.45" y="423.55" width="2.1" height="2.1" fill="#4472c4"/>
<rect x="546.35" y="423.55" width="2.1" height="2.1" fill="#4472c4"/>
<rect x="551.25" y="423.55" width="2.1" height="2.1" fill="#4472c4"/>
<rect x="630.95" y="423.55" width="2.1" height="2.1" fill="#4472c4"/>
<rect x="635.85" y="423.55" width="2.1" height="2.1" fill="#4472c4"/>
<rect x="640.85" y="423.55" width="2.1" height="2.1" fill="#4472c4"/>
<line x1="205.50" y1="593.5" x2="205.50" y2="857.1" stroke="#ebebeb" stroke-width="0.5"/>
<line x1="215.50" y1="593.5" x2="215.50" y2="857.1" stroke="#ebebeb" stroke-width="0.9"/>
<line x1="225.50" y1="593.5" x2="225.50" y2="857.1" stroke="#ebebeb" stroke-width="0.5"/>
<line x1="235.50" y1="593.5" x2="235.50" y2="857.1" stroke="#ebebeb" stroke-width="0.9"/>
<line x1="245.50" y1="593.5" x2="245.50" y2="857.1" stroke="#ebebeb" stroke-width="0.5"/>
<line x1="255.50" y1="593.5" x2="255.50" y2="857.1" stroke="#ebebeb" stroke-width="0.9"/>
<line x1="265.50" y1="593.5" x2="265.50" y2="857.1" stroke="#ebebeb" stroke-width="0.5"/>
<line x1="196.1" y1="608.70" x2="275.4" y2="608.70" stroke="#ebebeb" stroke-width="0.9"/>
<line x1="196.1" y1="634.60" x2="275.4" y2="634.60" stroke="#ebebeb" stroke-width="0.9"/>
<line x1="196.1" y1="660.50" x2="275.4" y2="660.50" stroke="#ebebeb" stroke-width="0.9"/>
<line x1="196.1" y1="686.40" x2="275.4" y2="686.40" stroke="#ebebeb" stroke-width="0.9"/>
<line x1="196.1" y1="712.30" x2="275.4" y2="712.30" stroke="#ebebeb" stroke-width="0.9"/>
<line x1="196.1" y1="738.20" x2="275.4" y2="738.20" stroke="#ebebeb" stroke-width="0.9"/>
<line x1="196.1" y1="764.10" x2="275.4" y2="764.10" stroke="#ebebeb" stroke-width="0.9"/>
<line x1="196.1" y1="790.00" x2="275.4" y2="790.00" stroke="#ebebeb" stroke-width="0.9"/>
<line x1="196.1" y1="815.90" x2="275.4" y2="815.90" stroke="#ebebeb" stroke-width="0.9"/>
<line x1="196.1" y1="841.80" x2="275.4" y2="841.80" stroke="#ebebeb" stroke-width="0.9"/>
<circle cx="271.80" cy="608.70" r="2.10" fill="#a8b4fa"/>
<circle cx="243.10" cy="634.60" r="4.40" fill="#4a67f5"/>
<circle cx="230.90" cy="660.50" r="4.20" fill="#a4b2fa"/>
<circle cx="222.30" cy="686.40" r="4.40" fill="#adbafb"/>
<circle cx="213.20" cy="712.30" r="5.60" fill="#4762f5"/>
<circle cx="206.90" cy="738.20" r="4.70" fill="#aebbfb"/>
<circle cx="204.30" cy="764.10" r="5.10" fill="#97a6fa"/>
<circle cx="202.90" cy="790.00" r="5.60" fill="#7386f8"/>
<circle cx="202.90" cy="815.90" r="5.10" fill="#a0aefa"/>
<circle cx="200.10" cy="841.80" r="4.50" fill="#8f9ff8"/>
<rect x="196.1" y="593.5" width="79.3" height="263.6" fill="none" stroke="#3c3c3c" stroke-width="0.85"/>
<line x1="194.1" y1="608.70" x2="196.1" y2="608.70" stroke="#333" stroke-width="0.9"/>
<text x="190.40" y="612.00" font-size="10.1" text-anchor="end" font-weight="normal" fill="#1a1a1a" stroke="#1a1a1a" stroke-width="0.18">ribonucleoprotein complex biogenesis</text>
<line x1="194.1" y1="634.60" x2="196.1" y2="634.60" stroke="#333" stroke-width="0.9"/>
<text x="190.40" y="637.90" font-size="10.1" text-anchor="end" font-weight="normal" fill="#1a1a1a" stroke="#1a1a1a" stroke-width="0.18">protein localization to organelle</text>
<line x1="194.1" y1="660.50" x2="196.1" y2="660.50" stroke="#333" stroke-width="0.9"/>
<text x="190.40" y="655.00" font-size="10.1" text-anchor="end" font-weight="normal" fill="#1a1a1a" stroke="#1a1a1a" stroke-width="0.18">protein modification by small</text>
<text x="190.40" y="667.90" font-size="10.1" text-anchor="end" font-weight="normal" fill="#1a1a1a" stroke="#1a1a1a" stroke-width="0.18">protein conjugation</text>
<line x1="194.1" y1="686.40" x2="196.1" y2="686.40" stroke="#333" stroke-width="0.9"/>
<text x="190.40" y="682.20" font-size="10.1" text-anchor="end" font-weight="normal" fill="#1a1a1a" stroke="#1a1a1a" stroke-width="0.18">protein modification by small</text>
<text x="190.40" y="694.80" font-size="10.1" text-anchor="end" font-weight="normal" fill="#1a1a1a" stroke="#1a1a1a" stroke-width="0.18">protein conjugation or removal</text>
<line x1="194.1" y1="712.30" x2="196.1" y2="712.30" stroke="#333" stroke-width="0.9"/>
<text x="190.40" y="715.60" font-size="10.1" text-anchor="end" font-weight="normal" fill="#1a1a1a" stroke="#1a1a1a" stroke-width="0.18">intracellular transport</text>
<line x1="194.1" y1="738.20" x2="196.1" y2="738.20" stroke="#333" stroke-width="0.9"/>
<text x="190.40" y="741.50" font-size="10.1" text-anchor="end" font-weight="normal" fill="#1a1a1a" stroke="#1a1a1a" stroke-width="0.18">neuron projection development</text>
<line x1="194.1" y1="764.10" x2="196.1" y2="764.10" stroke="#333" stroke-width="0.9"/>
<text x="190.40" y="767.40" font-size="10.1" text-anchor="end" font-weight="normal" fill="#1a1a1a" stroke="#1a1a1a" stroke-width="0.18">neuron development</text>
<line x1="194.1" y1="790.00" x2="196.1" y2="790.00" stroke="#333" stroke-width="0.9"/>
<text x="190.40" y="793.30" font-size="10.1" text-anchor="end" font-weight="normal" fill="#1a1a1a" stroke="#1a1a1a" stroke-width="0.18">establishment of protein localization</text>
<line x1="194.1" y1="815.90" x2="196.1" y2="815.90" stroke="#333" stroke-width="0.9"/>
<text x="190.40" y="819.20" font-size="10.1" text-anchor="end" font-weight="normal" fill="#1a1a1a" stroke="#1a1a1a" stroke-width="0.18">macromolecule catabolic process</text>
<line x1="194.1" y1="841.80" x2="196.1" y2="841.80" stroke="#333" stroke-width="0.9"/>
<text x="190.40" y="845.10" font-size="10.1" text-anchor="end" font-weight="normal" fill="#1a1a1a" stroke="#1a1a1a" stroke-width="0.18">protein transport</text>
<line x1="215.5" y1="857.1" x2="215.5" y2="858.9" stroke="#333" stroke-width="0.9"/>
<text x="215.50" y="866.40" font-size="7.3" text-anchor="middle" font-weight="normal" fill="#222"  stroke="#222" stroke-width="0.13">0.41</text>
<line x1="235.5" y1="857.1" x2="235.5" y2="858.9" stroke="#333" stroke-width="0.9"/>
<text x="235.50" y="866.40" font-size="7.3" text-anchor="middle" font-weight="normal" fill="#222"  stroke="#222" stroke-width="0.13">0.43</text>
<line x1="255.4" y1="857.1" x2="255.4" y2="858.9" stroke="#333" stroke-width="0.9"/>
<text x="255.40" y="866.40" font-size="7.3" text-anchor="middle" font-weight="normal" fill="#222"  stroke="#222" stroke-width="0.13">0.45</text>
<line x1="275.4" y1="857.1" x2="275.4" y2="858.9" stroke="#333" stroke-width="0.9"/>
<text x="275.40" y="866.40" font-size="7.3" text-anchor="middle" font-weight="normal" fill="#222"  stroke="#222" stroke-width="0.13">0.47</text>
<text x="231.50" y="881.00" font-size="10" text-anchor="middle" font-weight="normal" fill="#000"  stroke="#000" stroke-width="0.13">Gene ratio</text>
<text x="287.5" y="650" font-size="7.3" fill="#1a1a1a" stroke="#1a1a1a" stroke-width="0.1">-log<tspan font-size="5.2" dy="1.6">10</tspan><tspan dy="-1.6">(pvalue)</tspan></text>
<rect x="287" y="655.3" width="13.5" height="63.5" fill="url(#gdleg)"/>
<line x1="287" y1="658.8" x2="289.7" y2="658.8" stroke="#fff" stroke-width="0.6"/><line x1="297.8" y1="658.8" x2="300.5" y2="658.8" stroke="#fff" stroke-width="0.6"/>
<text x="304.10" y="661.20" font-size="6.6" text-anchor="start" font-weight="normal" fill="#1a1a1a"  stroke="#1a1a1a" stroke-width="0.13">14</text>
<line x1="287" y1="671.5" x2="289.7" y2="671.5" stroke="#fff" stroke-width="0.6"/><line x1="297.8" y1="671.5" x2="300.5" y2="671.5" stroke="#fff" stroke-width="0.6"/>
<text x="304.10" y="673.90" font-size="6.6" text-anchor="start" font-weight="normal" fill="#1a1a1a"  stroke="#1a1a1a" stroke-width="0.13">13</text>
<line x1="287" y1="684.4" x2="289.7" y2="684.4" stroke="#fff" stroke-width="0.6"/><line x1="297.8" y1="684.4" x2="300.5" y2="684.4" stroke="#fff" stroke-width="0.6"/>
<text x="304.10" y="686.80" font-size="6.6" text-anchor="start" font-weight="normal" fill="#1a1a1a"  stroke="#1a1a1a" stroke-width="0.13">12</text>
<line x1="287" y1="696.9" x2="289.7" y2="696.9" stroke="#fff" stroke-width="0.6"/><line x1="297.8" y1="696.9" x2="300.5" y2="696.9" stroke="#fff" stroke-width="0.6"/>
<text x="304.10" y="699.30" font-size="6.6" text-anchor="start" font-weight="normal" fill="#1a1a1a"  stroke="#1a1a1a" stroke-width="0.13">11</text>
<line x1="287" y1="709.5" x2="289.7" y2="709.5" stroke="#fff" stroke-width="0.6"/><line x1="297.8" y1="709.5" x2="300.5" y2="709.5" stroke="#fff" stroke-width="0.6"/>
<text x="304.10" y="711.90" font-size="6.6" text-anchor="start" font-weight="normal" fill="#1a1a1a"  stroke="#1a1a1a" stroke-width="0.13">10</text>
<text x="287.50" y="740.60" font-size="7.5" text-anchor="start" font-weight="normal" fill="#1a1a1a"  stroke="#1a1a1a" stroke-width="0.13">count</text>
<circle cx="293.8" cy="751.4" r="3.5" fill="#000"/>
<text x="304.10" y="753.80" font-size="6.6" text-anchor="start" font-weight="normal" fill="#1a1a1a"  stroke="#1a1a1a" stroke-width="0.13">300</text>
<circle cx="293.8" cy="764.0" r="4.0" fill="#000"/>
<text x="304.10" y="766.40" font-size="6.6" text-anchor="start" font-weight="normal" fill="#1a1a1a"  stroke="#1a1a1a" stroke-width="0.13">400</text>
<circle cx="293.8" cy="776.4" r="4.4" fill="#000"/>
<text x="304.10" y="778.80" font-size="6.6" text-anchor="start" font-weight="normal" fill="#1a1a1a"  stroke="#1a1a1a" stroke-width="0.13">500</text>
<circle cx="293.8" cy="789.0" r="4.9" fill="#000"/>
<text x="304.10" y="791.40" font-size="6.6" text-anchor="start" font-weight="normal" fill="#1a1a1a"  stroke="#1a1a1a" stroke-width="0.13">600</text>
<circle cx="293.8" cy="801.6" r="5.4" fill="#000"/>
<text x="304.10" y="804.00" font-size="6.6" text-anchor="start" font-weight="normal" fill="#1a1a1a"  stroke="#1a1a1a" stroke-width="0.13">700</text>
<line x1="531.60" y1="592.2" x2="531.60" y2="857.0" stroke="#ebebeb" stroke-width="0.9"/>
<line x1="548.80" y1="592.2" x2="548.80" y2="857.0" stroke="#ebebeb" stroke-width="0.9"/>
<line x1="566.00" y1="592.2" x2="566.00" y2="857.0" stroke="#ebebeb" stroke-width="0.9"/>
<line x1="583.20" y1="592.2" x2="583.20" y2="857.0" stroke="#ebebeb" stroke-width="0.9"/>
<line x1="600.40" y1="592.2" x2="600.40" y2="857.0" stroke="#ebebeb" stroke-width="0.9"/>
<line x1="617.60" y1="592.2" x2="617.60" y2="857.0" stroke="#ebebeb" stroke-width="0.9"/>
<line x1="523.5" y1="608.10" x2="627.5" y2="608.10" stroke="#ebebeb" stroke-width="0.9"/>
<line x1="523.5" y1="634.07" x2="627.5" y2="634.07" stroke="#ebebeb" stroke-width="0.9"/>
<line x1="523.5" y1="660.04" x2="627.5" y2="660.04" stroke="#ebebeb" stroke-width="0.9"/>
<line x1="523.5" y1="686.01" x2="627.5" y2="686.01" stroke="#ebebeb" stroke-width="0.9"/>
<line x1="523.5" y1="711.98" x2="627.5" y2="711.98" stroke="#ebebeb" stroke-width="0.9"/>
<line x1="523.5" y1="737.95" x2="627.5" y2="737.95" stroke="#ebebeb" stroke-width="0.9"/>
<line x1="523.5" y1="763.92" x2="627.5" y2="763.92" stroke="#ebebeb" stroke-width="0.9"/>
<line x1="523.5" y1="789.89" x2="627.5" y2="789.89" stroke="#ebebeb" stroke-width="0.9"/>
<line x1="523.5" y1="815.86" x2="627.5" y2="815.86" stroke="#ebebeb" stroke-width="0.9"/>
<line x1="523.5" y1="841.83" x2="627.5" y2="841.83" stroke="#ebebeb" stroke-width="0.9"/>
<circle cx="622.40" cy="608.10" r="3.10" fill="#fb0000"/>
<circle cx="618.60" cy="634.07" r="2.80" fill="#fc5840"/>
<circle cx="615.50" cy="660.04" r="2.50" fill="#fc6048"/>
<circle cx="615.50" cy="686.01" r="2.50" fill="#fc6048"/>
<circle cx="550.90" cy="711.98" r="4.60" fill="#fcc3b5"/>
<circle cx="539.40" cy="737.95" r="5.10" fill="#fb9f88"/>
<circle cx="538.10" cy="763.92" r="5.40" fill="#fc573a"/>
<circle cx="537.10" cy="789.89" r="5.10" fill="#fcc0b3"/>
<circle cx="529.40" cy="815.86" r="5.40" fill="#fca898"/>
<circle cx="528.10" cy="841.83" r="5.60" fill="#fb6c4e"/>
<rect x="523.5" y="592.2" width="104.0" height="264.8" fill="none" stroke="#3c3c3c" stroke-width="0.85"/>
<line x1="521.5" y1="608.10" x2="523.5" y2="608.10" stroke="#333" stroke-width="0.9"/>
<text x="519.20" y="611.40" font-size="10.1" text-anchor="end" font-weight="normal" fill="#1a1a1a" stroke="#1a1a1a" stroke-width="0.18">synaptic signaling</text>
<line x1="521.5" y1="634.07" x2="523.5" y2="634.07" stroke="#333" stroke-width="0.9"/>
<text x="519.20" y="637.37" font-size="10.1" text-anchor="end" font-weight="normal" fill="#1a1a1a" stroke="#1a1a1a" stroke-width="0.18">trans-synaptic signaling</text>
<line x1="521.5" y1="660.04" x2="523.5" y2="660.04" stroke="#333" stroke-width="0.9"/>
<text x="519.20" y="663.34" font-size="10.1" text-anchor="end" font-weight="normal" fill="#1a1a1a" stroke="#1a1a1a" stroke-width="0.18">chemical synaptic transmission</text>
<line x1="521.5" y1="686.01" x2="523.5" y2="686.01" stroke="#333" stroke-width="0.9"/>
<text x="519.20" y="689.31" font-size="10.1" text-anchor="end" font-weight="normal" fill="#1a1a1a" stroke="#1a1a1a" stroke-width="0.18">anterograde trans-synaptic signaling</text>
<line x1="521.5" y1="711.98" x2="523.5" y2="711.98" stroke="#333" stroke-width="0.9"/>
<text x="519.20" y="715.28" font-size="10.1" text-anchor="end" font-weight="normal" fill="#1a1a1a" stroke="#1a1a1a" stroke-width="0.18">neuron projection development</text>
<line x1="521.5" y1="737.95" x2="523.5" y2="737.95" stroke="#333" stroke-width="0.9"/>
<text x="519.20" y="741.25" font-size="10.1" text-anchor="end" font-weight="normal" fill="#1a1a1a" stroke="#1a1a1a" stroke-width="0.18">neuron development</text>
<line x1="521.5" y1="763.92" x2="523.5" y2="763.92" stroke="#333" stroke-width="0.9"/>
<text x="519.20" y="767.22" font-size="10.1" text-anchor="end" font-weight="normal" fill="#1a1a1a" stroke="#1a1a1a" stroke-width="0.18">protein transport</text>
<line x1="521.5" y1="789.89" x2="523.5" y2="789.89" stroke="#333" stroke-width="0.9"/>
<text x="519.20" y="793.19" font-size="10.1" text-anchor="end" font-weight="normal" fill="#1a1a1a" stroke="#1a1a1a" stroke-width="0.18">central nervous system development</text>
<line x1="521.5" y1="815.86" x2="523.5" y2="815.86" stroke="#333" stroke-width="0.9"/>
<text x="519.20" y="819.16" font-size="10.1" text-anchor="end" font-weight="normal" fill="#1a1a1a" stroke="#1a1a1a" stroke-width="0.18">intracellular transport</text>
<line x1="521.5" y1="841.83" x2="523.5" y2="841.83" stroke="#333" stroke-width="0.9"/>
<text x="519.20" y="845.13" font-size="10.1" text-anchor="end" font-weight="normal" fill="#1a1a1a" stroke="#1a1a1a" stroke-width="0.18">establishment of protein localization</text>
<line x1="531.6" y1="857.0" x2="531.6" y2="858.8" stroke="#333" stroke-width="0.9"/>
<text x="531.10" y="866.00" font-size="7.3" text-anchor="middle" font-weight="normal" fill="#222"  stroke="#222" stroke-width="0.13">0.44</text>
<line x1="566.0" y1="857.0" x2="566.0" y2="858.8" stroke="#333" stroke-width="0.9"/>
<text x="565.50" y="866.00" font-size="7.3" text-anchor="middle" font-weight="normal" fill="#222"  stroke="#222" stroke-width="0.13">0.46</text>
<line x1="600.4" y1="857.0" x2="600.4" y2="858.8" stroke="#333" stroke-width="0.9"/>
<text x="599.90" y="866.00" font-size="7.3" text-anchor="middle" font-weight="normal" fill="#222"  stroke="#222" stroke-width="0.13">0.48</text>
<text x="574.80" y="880.50" font-size="10" text-anchor="middle" font-weight="normal" fill="#000"  stroke="#000" stroke-width="0.13">Gene ratio</text>
<text x="639" y="656" font-size="7.3" fill="#1a1a1a" stroke="#1a1a1a" stroke-width="0.1">-log<tspan font-size="5.2" dy="1.6">10</tspan><tspan dy="-1.6">(pvalue)</tspan></text>
<rect x="639" y="661.2" width="13.4" height="63.4" fill="url(#ghleg)"/>
<rect x="639" y="723.8" width="13.4" height="0.9" fill="#f23a3a"/>
<line x1="639" y1="667.4" x2="641.7" y2="667.4" stroke="#fff" stroke-width="0.6"/><line x1="649.6" y1="667.4" x2="652.3" y2="667.4" stroke="#fff" stroke-width="0.6"/>
<text x="656.10" y="669.80" font-size="6.8" text-anchor="start" font-weight="normal" fill="#1a1a1a"  stroke="#1a1a1a" stroke-width="0.13">18</text>
<line x1="639" y1="684.2" x2="641.7" y2="684.2" stroke="#fff" stroke-width="0.6"/><line x1="649.6" y1="684.2" x2="652.3" y2="684.2" stroke="#fff" stroke-width="0.6"/>
<text x="656.10" y="686.60" font-size="6.8" text-anchor="start" font-weight="normal" fill="#1a1a1a"  stroke="#1a1a1a" stroke-width="0.13">17</text>
<line x1="639" y1="701.4" x2="641.7" y2="701.4" stroke="#fff" stroke-width="0.6"/><line x1="649.6" y1="701.4" x2="652.3" y2="701.4" stroke="#fff" stroke-width="0.6"/>
<text x="656.10" y="703.80" font-size="6.8" text-anchor="start" font-weight="normal" fill="#1a1a1a"  stroke="#1a1a1a" stroke-width="0.13">16</text>
<line x1="639" y1="718.0" x2="641.7" y2="718.0" stroke="#fff" stroke-width="0.6"/><line x1="649.6" y1="718.0" x2="652.3" y2="718.0" stroke="#fff" stroke-width="0.6"/>
<text x="656.10" y="720.40" font-size="6.8" text-anchor="start" font-weight="normal" fill="#1a1a1a"  stroke="#1a1a1a" stroke-width="0.13">15</text>
<text x="639.00" y="746.60" font-size="7.5" text-anchor="start" font-weight="normal" fill="#1a1a1a"  stroke="#1a1a1a" stroke-width="0.13">count</text>
<circle cx="645.4" cy="757.0" r="3.3" fill="#000"/>
<text x="655.60" y="759.40" font-size="6.6" text-anchor="start" font-weight="normal" fill="#1a1a1a"  stroke="#1a1a1a" stroke-width="0.13">500</text>
<circle cx="645.4" cy="769.5" r="4.1" fill="#000"/>
<text x="655.60" y="771.90" font-size="6.6" text-anchor="start" font-weight="normal" fill="#1a1a1a"  stroke="#1a1a1a" stroke-width="0.13">600</text>
<circle cx="645.4" cy="782.3" r="4.6" fill="#000"/>
<text x="655.60" y="784.70" font-size="6.6" text-anchor="start" font-weight="normal" fill="#1a1a1a"  stroke="#1a1a1a" stroke-width="0.13">700</text>
<circle cx="645.4" cy="794.8" r="5.1" fill="#000"/>
<text x="655.60" y="797.20" font-size="6.6" text-anchor="start" font-weight="normal" fill="#1a1a1a"  stroke="#1a1a1a" stroke-width="0.13">800</text>
</svg>
</body></html>
